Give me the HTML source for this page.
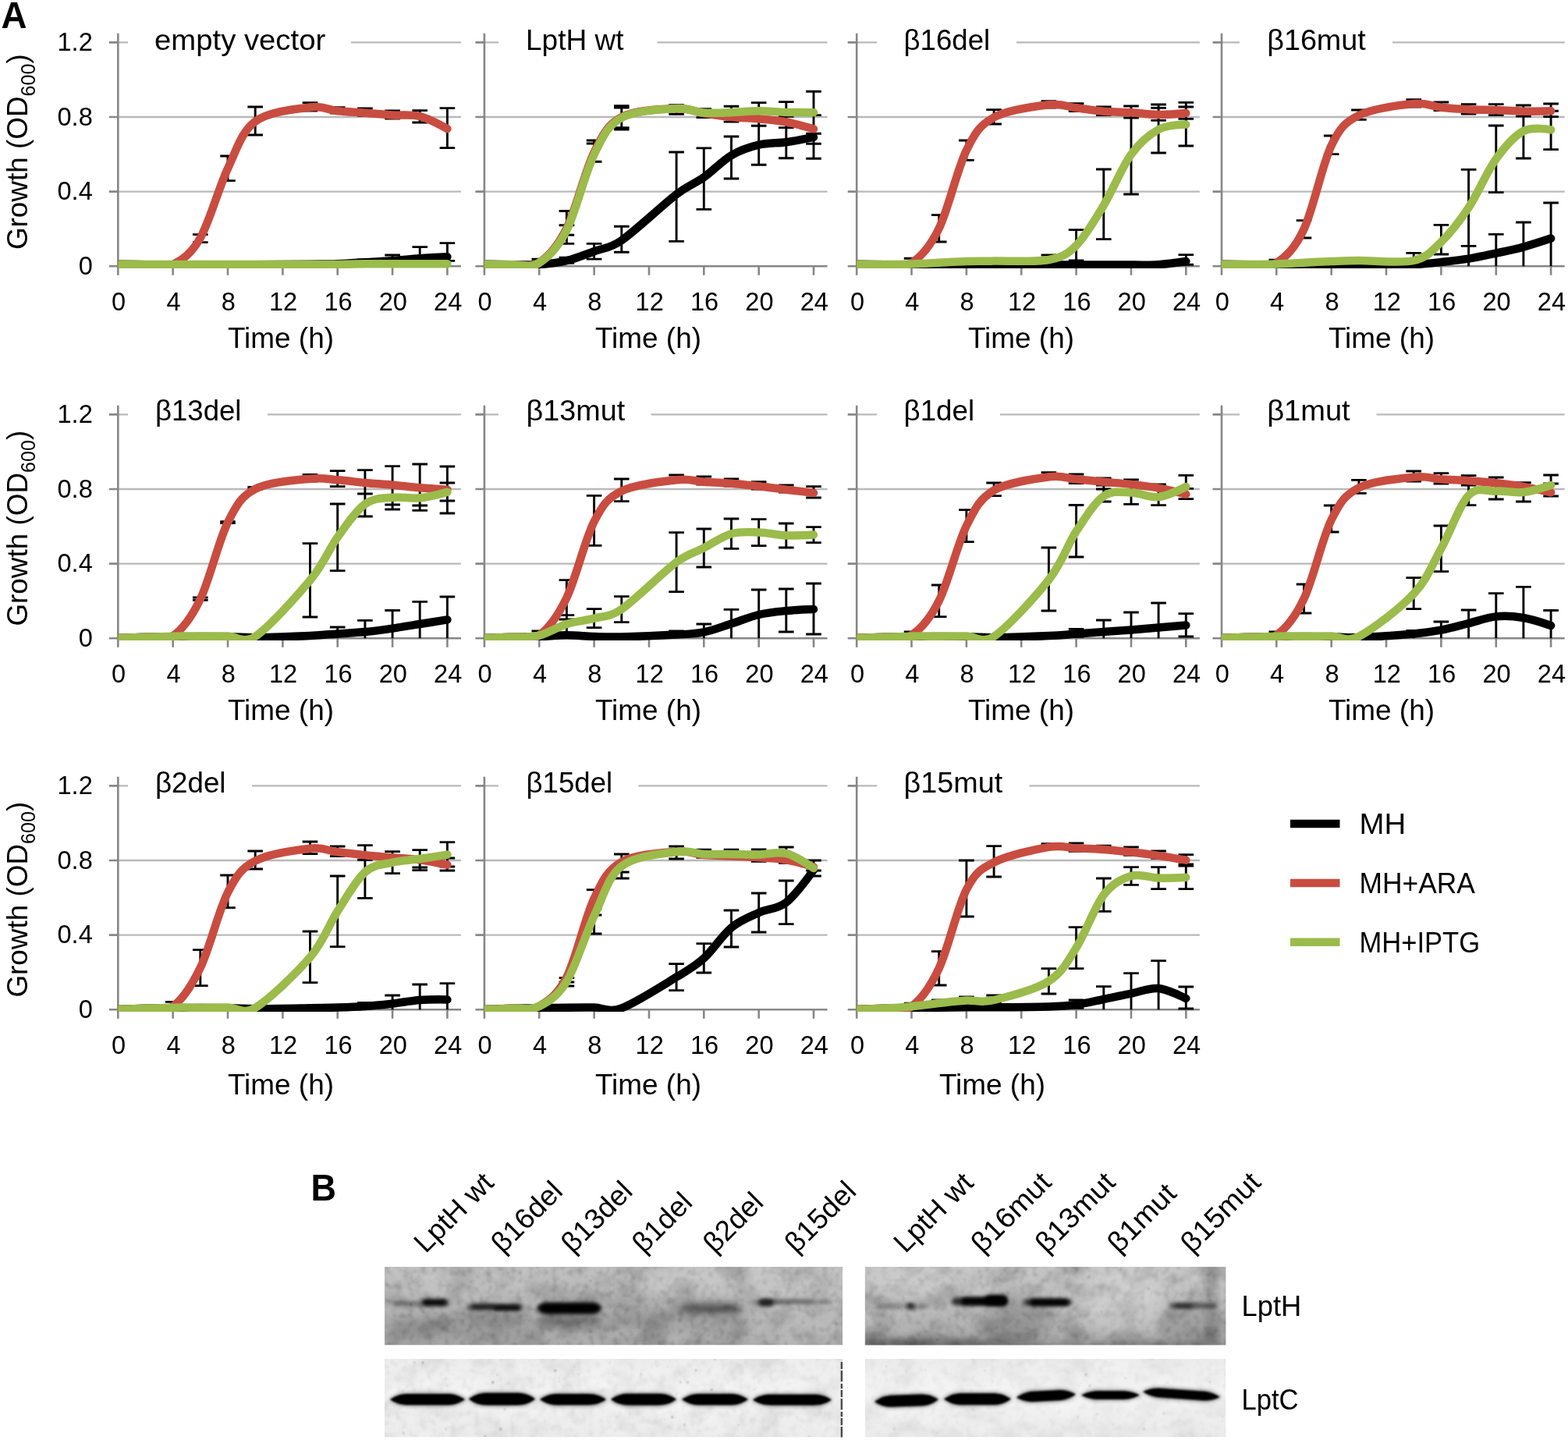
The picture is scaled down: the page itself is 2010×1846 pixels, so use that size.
<!DOCTYPE html>
<html lang="en"><head><meta charset="utf-8"><title>Growth curves and immunoblot of LptH variants</title>
<style>html,body{margin:0;padding:0;background:#fff}body{width:2010px;height:1846px;overflow:hidden}svg{display:block}text{font-family:"Liberation Sans",Arial,Helvetica,sans-serif;fill:#000}</style>
</head><body>
<svg width="2010" height="1846" viewBox="0 0 2010 1846">
<defs>
<clipPath id="c0"><rect x="151.3" y="41.2" width="459.7" height="302.7"/></clipPath>
<clipPath id="c1"><rect x="620.9" y="41.2" width="459.7" height="302.7"/></clipPath>
<clipPath id="c2"><rect x="1098.2" y="41.2" width="459.7" height="302.7"/></clipPath>
<clipPath id="c3"><rect x="1566.0" y="41.2" width="459.7" height="302.7"/></clipPath>
<clipPath id="c4"><rect x="151.3" y="518.2" width="459.7" height="302.7"/></clipPath>
<clipPath id="c5"><rect x="620.9" y="518.2" width="459.7" height="302.7"/></clipPath>
<clipPath id="c6"><rect x="1098.2" y="518.2" width="459.7" height="302.7"/></clipPath>
<clipPath id="c7"><rect x="1566.0" y="518.2" width="459.7" height="302.7"/></clipPath>
<clipPath id="c8"><rect x="151.3" y="994.2" width="459.7" height="302.7"/></clipPath>
<clipPath id="c9"><rect x="620.9" y="994.2" width="459.7" height="302.7"/></clipPath>
<clipPath id="c10"><rect x="1098.2" y="994.2" width="459.7" height="302.7"/></clipPath>
</defs>
<rect width="2010" height="1846" fill="#fff"/>
<g id="p0">
<line x1="151.3" y1="245.6" x2="591.0" y2="245.6" stroke="#b9b9b9" stroke-width="2.4"/>
<line x1="151.3" y1="150.0" x2="591.0" y2="150.0" stroke="#b9b9b9" stroke-width="2.4"/>
<line x1="151.3" y1="54.4" x2="591.0" y2="54.4" stroke="#b9b9b9" stroke-width="2.4"/>
<rect x="164.0" y="32.4" width="286.0" height="44" fill="#fff"/>
<path d="M151.3,42.7V352.7M139.8,341.2H591.0" stroke="#878787" stroke-width="2.6" fill="none"/>
<path d="M139.8,245.6H151.3M139.8,150.0H151.3M139.8,54.4H151.3M221.7,341.2V352.7M292.0,341.2V352.7M362.4,341.2V352.7M432.7,341.2V352.7M503.1,341.2V352.7M573.4,341.2V352.7" stroke="#878787" stroke-width="2.6" fill="none"/>
<path d="M256.8,300.6V310.6M247.0,300.6h19.6M247.0,310.6h19.6M292.0,200.0V231.6M282.2,200.0h19.6M282.2,231.6h19.6M327.2,137.0V173.0M317.4,137.0h19.6M317.4,173.0h19.6M397.5,131.6V142.0M387.7,131.6h19.6M387.7,142.0h19.6M432.7,137.6V145.0M422.9,137.6h19.6M422.9,145.0h19.6M467.9,139.0V148.4M458.1,139.0h19.6M458.1,148.4h19.6M503.1,142.0V152.0M493.3,142.0h19.6M493.3,152.0h19.6M538.2,141.6V157.0M528.4,141.6h19.6M528.4,157.0h19.6M573.4,138.6V189.6M563.6,138.6h19.6M563.6,189.6h19.6M467.9,333.0V339.2M458.1,333.0h19.6M458.1,339.2h19.6M503.1,327.0V339.2M493.3,327.0h19.6M493.3,339.2h19.6M538.2,316.6V339.2M528.4,316.6h19.6M528.4,339.2h19.6M573.4,311.6V334.4M563.6,311.6h19.6M563.6,334.4h19.6" stroke="#000" stroke-width="2.9" fill="none"/>
<g clip-path="url(#c0)" fill="none" stroke-width="10.5" stroke-linecap="round" stroke-linejoin="round">
<path d="M151.3,338.7C151.3,338.7 174.8,339.1 186.5,339.2C198.2,339.3 209.9,339.2 221.7,339.2C233.4,339.2 245.1,339.2 256.8,339.2C268.6,339.2 280.3,339.2 292.0,339.2C303.7,339.2 309.6,339.3 327.2,339.2C344.8,339.1 379.9,338.9 397.5,338.7C415.1,338.5 421.0,338.6 432.7,338.2C444.4,337.8 456.2,336.9 467.9,336.2C479.6,335.5 491.3,335.0 503.1,334.2C514.8,333.4 526.5,332.0 538.2,331.2C550.0,330.4 573.4,329.2 573.4,329.2" stroke="#000000"/>
<path d="M151.3,338.7C151.3,338.7 174.8,339.1 186.5,339.2C198.2,339.2 209.9,344.7 221.7,339.0C233.4,333.3 245.1,325.5 256.8,305.0C268.6,284.5 280.3,240.9 292.0,216.0C303.7,191.1 309.6,168.8 327.2,155.7C344.8,142.6 379.9,139.7 397.5,137.5C415.1,135.3 421.0,141.1 432.7,142.3C444.4,143.5 456.2,143.8 467.9,144.7C479.6,145.6 491.3,146.8 503.1,147.5C514.8,148.2 526.5,146.2 538.2,149.1C550.0,152.0 573.4,165.1 573.4,165.1" stroke="#c94c40"/>
<path d="M151.3,338.7C151.3,338.7 174.8,338.9 186.5,339.0C198.2,339.1 204.1,339.0 221.7,339.0C239.2,339.0 268.6,339.0 292.0,339.0C315.4,339.0 338.9,339.0 362.4,339.0C385.8,339.0 415.1,339.1 432.7,339.0C450.3,338.9 456.2,338.3 467.9,338.2C479.6,338.1 491.3,338.2 503.1,338.2C514.8,338.2 526.5,338.2 538.2,338.2C550.0,338.2 573.4,338.2 573.4,338.2" stroke="#9bbb4b"/>
</g>
<text x="198.0" y="63.9" font-size="36.5" textLength="219.2" lengthAdjust="spacingAndGlyphs">empty vector</text>
<text x="100.7" y="351.9" font-size="33.0" textLength="18.1" lengthAdjust="spacingAndGlyphs">0</text>
<text x="73.5" y="256.3" font-size="33.0" textLength="45.3" lengthAdjust="spacingAndGlyphs">0.4</text>
<text x="73.5" y="160.7" font-size="33.0" textLength="45.3" lengthAdjust="spacingAndGlyphs">0.8</text>
<text x="73.5" y="65.1" font-size="33.0" textLength="45.3" lengthAdjust="spacingAndGlyphs">1.2</text>
<text x="143.0" y="397.7" font-size="33.0" textLength="18.1" lengthAdjust="spacingAndGlyphs">0</text>
<text x="213.4" y="397.7" font-size="33.0" textLength="18.1" lengthAdjust="spacingAndGlyphs">4</text>
<text x="283.7" y="397.7" font-size="33.0" textLength="18.1" lengthAdjust="spacingAndGlyphs">8</text>
<text x="345.0" y="397.7" font-size="33.0" textLength="36.2" lengthAdjust="spacingAndGlyphs">12</text>
<text x="415.4" y="397.7" font-size="33.0" textLength="36.2" lengthAdjust="spacingAndGlyphs">16</text>
<text x="485.7" y="397.7" font-size="33.0" textLength="36.2" lengthAdjust="spacingAndGlyphs">20</text>
<text x="556.1" y="397.7" font-size="33.0" textLength="36.2" lengthAdjust="spacingAndGlyphs">24</text>
<text x="291.9" y="445.5" font-size="36.5" textLength="136.1" lengthAdjust="spacingAndGlyphs">Time (h)</text>
<text transform="translate(34.5,194.7) rotate(-90)" font-size="36.5"><tspan x="-125.4" y="0" textLength="196.6" lengthAdjust="spacingAndGlyphs">Growth (OD</tspan><tspan x="71.3" y="10.3" font-size="25.6" textLength="41.8" lengthAdjust="spacingAndGlyphs">600</tspan><tspan x="113.1" y="0" textLength="12.2" lengthAdjust="spacingAndGlyphs">)</tspan></text>
</g>
<g id="p1">
<line x1="620.9" y1="245.6" x2="1060.6" y2="245.6" stroke="#b9b9b9" stroke-width="2.4"/>
<line x1="620.9" y1="150.0" x2="1060.6" y2="150.0" stroke="#b9b9b9" stroke-width="2.4"/>
<line x1="620.9" y1="54.4" x2="1060.6" y2="54.4" stroke="#b9b9b9" stroke-width="2.4"/>
<rect x="639.0" y="32.4" width="203.5" height="44" fill="#fff"/>
<path d="M620.9,42.7V352.7M609.4,341.2H1060.6" stroke="#878787" stroke-width="2.6" fill="none"/>
<path d="M609.4,245.6H620.9M609.4,150.0H620.9M609.4,54.4H620.9M691.2,341.2V352.7M761.6,341.2V352.7M832.0,341.2V352.7M902.3,341.2V352.7M972.7,341.2V352.7M1043.0,341.2V352.7" stroke="#878787" stroke-width="2.6" fill="none"/>
<path d="M691.2,332.2V332.2M681.5,332.2h19.6M726.4,330.2V337.2M716.6,330.2h19.6M716.6,337.2h19.6M726.4,270.5V312.4M716.6,270.5h19.6M716.6,288.7h19.6M716.6,301.2h19.6M716.6,312.4h19.6M761.6,180.0V207.2M751.8,180.0h19.6M751.8,184.0h19.6M751.8,207.2h19.6M796.8,135.7V166.0M787.0,135.7h19.6M787.0,138.0h19.6M787.0,163.8h19.6M787.0,166.0h19.6M761.6,312.4V332.1M751.8,312.4h19.6M751.8,332.1h19.6M796.8,290.2V323.3M787.0,290.2h19.6M787.0,323.3h19.6M867.1,195.0V309.4M857.3,195.0h19.6M857.3,309.4h19.6M867.1,134.6V146.2M857.3,134.6h19.6M857.3,146.2h19.6M902.3,189.9V268.4M892.5,189.9h19.6M892.5,268.4h19.6M902.3,139.6V150.6M892.5,139.6h19.6M892.5,150.6h19.6M937.5,175.0V229.0M927.7,175.0h19.6M927.7,229.0h19.6M937.5,136.3V156.1M927.7,136.3h19.6M927.7,156.1h19.6M972.7,131.6V211.2M962.9,131.6h19.6M962.9,161.3h19.6M962.9,211.2h19.6M1007.8,130.6V202.7M998.0,130.6h19.6M998.0,149.3h19.6M998.0,163.6h19.6M998.0,202.7h19.6M1043.0,117.3V203.2M1033.2,117.3h19.6M1033.2,147.6h19.6M1033.2,171.2h19.6M1033.2,184.2h19.6M1033.2,203.2h19.6" stroke="#000" stroke-width="2.9" fill="none"/>
<g clip-path="url(#c1)" fill="none" stroke-width="10.5" stroke-linecap="round" stroke-linejoin="round">
<path d="M620.9,338.7C620.9,338.7 644.3,339.1 656.1,339.2C667.8,339.3 679.5,340.0 691.2,339.2C703.0,338.4 714.7,337.0 726.4,334.2C738.1,331.4 749.9,326.5 761.6,322.2C773.3,317.9 781.2,319.0 796.8,308.2C814.4,296.0 849.5,262.7 867.1,249.2C883.6,236.6 890.6,235.6 902.3,227.3C914.0,219.0 925.8,206.1 937.5,199.2C949.2,192.3 960.9,188.5 972.7,185.7C984.4,182.9 996.1,183.8 1007.8,182.2C1019.6,180.6 1043.0,175.9 1043.0,175.9" stroke="#000000"/>
<path d="M620.9,338.7C620.9,338.7 644.3,339.5 656.1,339.2C667.8,338.9 679.5,344.4 691.2,336.7C703.0,328.9 714.7,316.3 726.4,292.7C738.1,269.1 749.9,218.9 761.6,195.2C773.3,171.4 779.2,159.5 796.8,150.2C814.4,140.9 849.5,140.0 867.1,139.2C884.7,138.4 890.6,143.4 902.3,145.2C914.0,147.0 925.8,148.9 937.5,150.1C949.2,151.3 960.9,151.3 972.7,152.3C984.4,153.3 996.1,154.1 1007.8,156.3C1019.6,158.5 1043.0,165.3 1043.0,165.3" stroke="#c94c40"/>
<path d="M620.9,338.7C620.9,338.7 644.3,339.5 656.1,339.2C667.8,338.9 679.5,344.3 691.2,337.0C703.0,329.7 714.7,318.4 726.4,295.2C738.1,272.0 749.9,222.0 761.6,198.0C773.3,174.0 779.2,160.8 796.8,151.0C814.4,141.2 849.5,140.3 867.1,139.2C884.7,138.1 890.6,143.8 902.3,144.6C914.0,145.4 925.8,144.5 937.5,144.1C949.2,143.7 960.9,142.3 972.7,142.3C984.4,142.3 996.1,143.6 1007.8,143.9C1019.6,144.2 1043.0,144.2 1043.0,144.2" stroke="#9bbb4b"/>
</g>
<text x="674.0" y="63.9" font-size="36.5" textLength="125.5" lengthAdjust="spacingAndGlyphs">LptH wt</text>
<text x="612.6" y="397.7" font-size="33.0" textLength="18.1" lengthAdjust="spacingAndGlyphs">0</text>
<text x="683.0" y="397.7" font-size="33.0" textLength="18.1" lengthAdjust="spacingAndGlyphs">4</text>
<text x="753.3" y="397.7" font-size="33.0" textLength="18.1" lengthAdjust="spacingAndGlyphs">8</text>
<text x="814.6" y="397.7" font-size="33.0" textLength="36.2" lengthAdjust="spacingAndGlyphs">12</text>
<text x="885.0" y="397.7" font-size="33.0" textLength="36.2" lengthAdjust="spacingAndGlyphs">16</text>
<text x="955.3" y="397.7" font-size="33.0" textLength="36.2" lengthAdjust="spacingAndGlyphs">20</text>
<text x="1025.7" y="397.7" font-size="33.0" textLength="36.2" lengthAdjust="spacingAndGlyphs">24</text>
<text x="762.9" y="445.5" font-size="36.5" textLength="136.1" lengthAdjust="spacingAndGlyphs">Time (h)</text>
</g>
<g id="p2">
<line x1="1098.2" y1="245.6" x2="1537.9" y2="245.6" stroke="#b9b9b9" stroke-width="2.4"/>
<line x1="1098.2" y1="150.0" x2="1537.9" y2="150.0" stroke="#b9b9b9" stroke-width="2.4"/>
<line x1="1098.2" y1="54.4" x2="1537.9" y2="54.4" stroke="#b9b9b9" stroke-width="2.4"/>
<rect x="1124.0" y="32.4" width="179.0" height="44" fill="#fff"/>
<path d="M1098.2,42.7V352.7M1086.7,341.2H1537.9" stroke="#878787" stroke-width="2.6" fill="none"/>
<path d="M1086.7,245.6H1098.2M1086.7,150.0H1098.2M1086.7,54.4H1098.2M1168.5,341.2V352.7M1238.9,341.2V352.7M1309.2,341.2V352.7M1379.6,341.2V352.7M1450.0,341.2V352.7M1520.3,341.2V352.7" stroke="#878787" stroke-width="2.6" fill="none"/>
<path d="M1168.5,331.2V331.2M1158.8,331.2h19.6M1203.7,275.6V310.0M1193.9,275.6h19.6M1193.9,310.0h19.6M1238.9,180.0V205.4M1229.1,180.0h19.6M1229.1,205.4h19.6M1274.1,140.6V159.0M1264.3,140.6h19.6M1264.3,159.0h19.6M1344.4,129.6V138.0M1334.6,129.6h19.6M1334.6,138.0h19.6M1344.4,327.0V338.2M1334.6,327.0h19.6M1334.6,338.2h19.6M1379.6,132.6V142.6M1369.8,132.6h19.6M1369.8,142.6h19.6M1379.6,294.6V334.0M1369.8,294.6h19.6M1369.8,334.0h19.6M1414.8,137.0V147.6M1405.0,137.0h19.6M1405.0,147.6h19.6M1414.8,217.0V306.6M1405.0,217.0h19.6M1405.0,306.6h19.6M1450.0,136.0V249.0M1440.2,136.0h19.6M1440.2,151.0h19.6M1440.2,249.0h19.6M1485.1,134.0V196.0M1475.3,134.0h19.6M1475.3,138.4h19.6M1475.3,154.4h19.6M1475.3,196.0h19.6M1520.3,131.4V187.0M1510.5,131.4h19.6M1510.5,137.0h19.6M1510.5,152.4h19.6M1510.5,187.0h19.6M1520.3,326.6V339.2M1510.5,326.6h19.6M1510.5,339.2h19.6" stroke="#000" stroke-width="2.9" fill="none"/>
<g clip-path="url(#c2)" fill="none" stroke-width="10.5" stroke-linecap="round" stroke-linejoin="round">
<path d="M1098.2,338.7C1098.2,338.7 1121.7,339.1 1133.4,339.2C1145.1,339.3 1151.0,339.2 1168.5,339.2C1186.1,339.2 1215.5,339.1 1238.9,339.2C1262.4,339.3 1285.8,339.5 1309.2,339.6C1332.7,339.7 1356.2,339.6 1379.6,339.6C1403.1,339.6 1432.4,339.7 1450.0,339.6C1467.5,339.5 1473.4,340.0 1485.1,339.2C1496.8,338.4 1520.3,335.0 1520.3,335.0" stroke="#000000"/>
<path d="M1098.2,338.7C1098.2,338.7 1121.7,339.4 1133.4,339.2C1145.1,338.9 1156.8,344.9 1168.5,337.2C1180.3,329.5 1192.0,316.9 1203.7,292.8C1215.5,268.7 1227.2,216.3 1238.9,192.6C1250.6,168.9 1256.5,160.2 1274.1,150.5C1291.7,140.8 1326.8,136.3 1344.4,134.3C1362.0,132.3 1367.9,136.9 1379.6,138.3C1391.3,139.7 1403.1,141.7 1414.8,142.7C1426.5,143.7 1438.2,143.6 1450.0,144.3C1461.7,145.0 1473.4,147.0 1485.1,147.1C1496.8,147.2 1520.3,145.1 1520.3,145.1" stroke="#c94c40"/>
<path d="M1098.2,338.7C1098.2,338.7 1121.7,339.1 1133.4,339.0C1145.1,338.9 1156.8,338.8 1168.5,338.4C1180.3,338.0 1192.0,337.3 1203.7,336.7C1215.5,336.1 1227.2,335.4 1238.9,335.0C1250.6,334.6 1256.5,334.9 1274.1,334.6C1291.7,334.3 1326.8,336.3 1344.4,333.0C1362.0,329.7 1367.9,326.3 1379.6,314.7C1391.3,303.1 1403.1,282.6 1414.8,263.2C1426.5,243.8 1438.2,214.2 1450.0,198.0C1461.7,181.8 1473.4,172.4 1485.1,166.0C1496.8,159.6 1520.3,159.6 1520.3,159.6" stroke="#9bbb4b"/>
</g>
<text x="1158.6" y="63.9" font-size="36.5" textLength="110.5" lengthAdjust="spacingAndGlyphs">β16del</text>
<text x="1089.9" y="397.7" font-size="33.0" textLength="18.1" lengthAdjust="spacingAndGlyphs">0</text>
<text x="1160.3" y="397.7" font-size="33.0" textLength="18.1" lengthAdjust="spacingAndGlyphs">4</text>
<text x="1230.6" y="397.7" font-size="33.0" textLength="18.1" lengthAdjust="spacingAndGlyphs">8</text>
<text x="1291.9" y="397.7" font-size="33.0" textLength="36.2" lengthAdjust="spacingAndGlyphs">12</text>
<text x="1362.3" y="397.7" font-size="33.0" textLength="36.2" lengthAdjust="spacingAndGlyphs">16</text>
<text x="1432.6" y="397.7" font-size="33.0" textLength="36.2" lengthAdjust="spacingAndGlyphs">20</text>
<text x="1503.0" y="397.7" font-size="33.0" textLength="36.2" lengthAdjust="spacingAndGlyphs">24</text>
<text x="1240.9" y="445.5" font-size="36.5" textLength="136.1" lengthAdjust="spacingAndGlyphs">Time (h)</text>
</g>
<g id="p3">
<line x1="1566.0" y1="245.6" x2="2005.7" y2="245.6" stroke="#b9b9b9" stroke-width="2.4"/>
<line x1="1566.0" y1="150.0" x2="2005.7" y2="150.0" stroke="#b9b9b9" stroke-width="2.4"/>
<line x1="1566.0" y1="54.4" x2="2005.7" y2="54.4" stroke="#b9b9b9" stroke-width="2.4"/>
<rect x="1589.0" y="32.4" width="196.0" height="44" fill="#fff"/>
<path d="M1566.0,42.7V352.7M1554.5,341.2H2005.7" stroke="#878787" stroke-width="2.6" fill="none"/>
<path d="M1554.5,245.6H1566.0M1554.5,150.0H1566.0M1554.5,54.4H1566.0M1636.3,341.2V352.7M1706.7,341.2V352.7M1777.0,341.2V352.7M1847.4,341.2V352.7M1917.8,341.2V352.7M1988.1,341.2V352.7" stroke="#878787" stroke-width="2.6" fill="none"/>
<path d="M1636.3,333.2V333.2M1626.5,333.2h19.6M1671.5,282.6V305.0M1661.7,282.6h19.6M1661.7,305.0h19.6M1706.7,174.0V197.6M1696.9,174.0h19.6M1696.9,197.6h19.6M1741.9,141.0V153.4M1732.1,141.0h19.6M1732.1,153.4h19.6M1812.2,127.6V137.0M1802.4,127.6h19.6M1802.4,137.0h19.6M1812.2,324.4V338.2M1802.4,324.4h19.6M1802.4,338.2h19.6M1847.4,131.0V141.6M1837.6,131.0h19.6M1837.6,141.6h19.6M1847.4,288.4V326.0M1837.6,288.4h19.6M1837.6,326.0h19.6M1882.6,133.6V146.0M1872.8,133.6h19.6M1872.8,146.0h19.6M1882.6,217.4V341.2M1872.8,217.4h19.6M1872.8,315.4h19.6M1917.8,133.6V147.6M1908.0,133.6h19.6M1908.0,147.6h19.6M1917.8,161.0V246.6M1908.0,161.0h19.6M1908.0,246.6h19.6M1917.8,300.4V341.2M1908.0,300.4h19.6M1952.9,135.0V203.0M1943.1,135.0h19.6M1943.1,149.0h19.6M1943.1,203.0h19.6M1952.9,285.0V341.2M1943.1,285.0h19.6M1988.1,133.0V191.6M1978.3,133.0h19.6M1978.3,142.2h19.6M1978.3,149.6h19.6M1978.3,191.6h19.6M1988.1,260.0V341.2M1978.3,260.0h19.6" stroke="#000" stroke-width="2.9" fill="none"/>
<g clip-path="url(#c3)" fill="none" stroke-width="10.5" stroke-linecap="round" stroke-linejoin="round">
<path d="M1566.0,338.7C1566.0,338.7 1589.5,339.1 1601.2,339.2C1612.9,339.3 1618.8,339.2 1636.3,339.2C1653.9,339.2 1683.2,339.2 1706.7,339.2C1730.2,339.2 1759.5,339.2 1777.0,339.2C1794.6,339.2 1800.5,339.7 1812.2,339.2C1823.9,338.7 1835.7,337.3 1847.4,336.0C1859.1,334.7 1870.9,333.5 1882.6,331.6C1894.3,329.7 1906.0,327.1 1917.8,324.6C1929.5,322.1 1941.2,319.8 1952.9,316.6C1964.7,313.4 1988.1,305.6 1988.1,305.6" stroke="#000000"/>
<path d="M1566.0,338.7C1566.0,338.7 1589.5,339.4 1601.2,339.2C1612.9,338.9 1624.6,344.8 1636.3,337.2C1648.1,329.6 1659.8,318.9 1671.5,293.8C1683.3,268.7 1695.0,210.8 1706.7,186.5C1718.0,163.0 1724.3,156.8 1741.9,147.9C1759.5,139.0 1794.6,134.8 1812.2,133.1C1829.8,131.4 1835.7,136.5 1847.4,137.7C1859.1,138.9 1870.9,139.7 1882.6,140.3C1894.3,140.9 1906.0,140.7 1917.8,141.1C1929.5,141.5 1941.2,142.5 1952.9,142.7C1964.7,142.9 1988.1,142.3 1988.1,142.3" stroke="#c94c40"/>
<path d="M1566.0,338.7C1566.0,338.7 1589.5,339.1 1601.2,339.0C1612.9,338.9 1624.6,338.8 1636.3,338.4C1648.1,338.0 1659.8,337.3 1671.5,336.7C1683.2,336.1 1695.0,335.4 1706.7,335.0C1718.4,334.6 1724.3,334.2 1741.9,334.0C1759.5,333.8 1794.6,338.0 1812.2,334.0C1829.8,330.0 1835.7,321.5 1847.4,310.2C1859.1,298.9 1870.9,283.9 1882.6,266.2C1894.3,248.5 1906.0,220.2 1917.8,203.8C1929.5,187.4 1941.2,174.2 1952.9,168.0C1964.7,161.8 1988.1,166.4 1988.1,166.4" stroke="#9bbb4b"/>
</g>
<text x="1624.2" y="63.9" font-size="36.5" textLength="126.6" lengthAdjust="spacingAndGlyphs">β16mut</text>
<text x="1557.7" y="397.7" font-size="33.0" textLength="18.1" lengthAdjust="spacingAndGlyphs">0</text>
<text x="1628.1" y="397.7" font-size="33.0" textLength="18.1" lengthAdjust="spacingAndGlyphs">4</text>
<text x="1698.4" y="397.7" font-size="33.0" textLength="18.1" lengthAdjust="spacingAndGlyphs">8</text>
<text x="1759.7" y="397.7" font-size="33.0" textLength="36.2" lengthAdjust="spacingAndGlyphs">12</text>
<text x="1830.1" y="397.7" font-size="33.0" textLength="36.2" lengthAdjust="spacingAndGlyphs">16</text>
<text x="1900.4" y="397.7" font-size="33.0" textLength="36.2" lengthAdjust="spacingAndGlyphs">20</text>
<text x="1970.8" y="397.7" font-size="33.0" textLength="36.2" lengthAdjust="spacingAndGlyphs">24</text>
<text x="1702.9" y="445.5" font-size="36.5" textLength="136.1" lengthAdjust="spacingAndGlyphs">Time (h)</text>
</g>
<g id="p4">
<line x1="151.3" y1="722.6" x2="591.0" y2="722.6" stroke="#b9b9b9" stroke-width="2.4"/>
<line x1="151.3" y1="627.0" x2="591.0" y2="627.0" stroke="#b9b9b9" stroke-width="2.4"/>
<line x1="151.3" y1="531.4" x2="591.0" y2="531.4" stroke="#b9b9b9" stroke-width="2.4"/>
<rect x="164.0" y="509.4" width="179.0" height="44" fill="#fff"/>
<path d="M151.3,519.7V829.7M139.8,818.2H591.0" stroke="#878787" stroke-width="2.6" fill="none"/>
<path d="M139.8,722.6H151.3M139.8,627.0H151.3M139.8,531.4H151.3M221.7,818.2V829.7M292.0,818.2V829.7M362.4,818.2V829.7M432.7,818.2V829.7M503.1,818.2V829.7M573.4,818.2V829.7" stroke="#878787" stroke-width="2.6" fill="none"/>
<path d="M256.8,766.0V769.4M247.0,766.0h19.6M247.0,769.4h19.6M292.0,668.6V670.6M282.2,668.6h19.6M282.2,670.6h19.6M327.2,624.4V627.2M317.4,624.4h19.6M317.4,627.2h19.6M397.5,608.4V617.0M387.7,608.4h19.6M387.7,617.0h19.6M397.5,696.6V791.0M387.7,696.6h19.6M387.7,791.0h19.6M432.7,603.6V623.6M422.9,603.6h19.6M422.9,623.6h19.6M432.7,646.0V731.6M422.9,646.0h19.6M422.9,731.6h19.6M432.7,804.0V818.2M422.9,804.0h19.6M467.9,602.6V662.0M458.1,602.6h19.6M458.1,633.0h19.6M458.1,662.0h19.6M467.9,795.4V818.2M458.1,795.4h19.6M503.1,597.6V653.0M493.3,597.6h19.6M493.3,647.0h19.6M493.3,653.0h19.6M503.1,782.5V818.2M493.3,782.5h19.6M538.2,595.0V654.4M528.4,595.0h19.6M528.4,648.0h19.6M528.4,654.4h19.6M538.2,771.4V818.2M528.4,771.4h19.6M573.4,598.0V658.0M563.6,598.0h19.6M563.6,619.0h19.6M563.6,642.0h19.6M563.6,658.0h19.6M573.4,765.0V818.2M563.6,765.0h19.6" stroke="#000" stroke-width="2.9" fill="none"/>
<g clip-path="url(#c4)" fill="none" stroke-width="10.5" stroke-linecap="round" stroke-linejoin="round">
<path d="M151.3,817.9C151.3,817.9 174.8,817.0 186.5,816.7C198.2,816.4 204.1,816.3 221.7,816.2C239.2,816.1 274.4,816.0 292.0,816.2C309.6,816.4 309.6,817.4 327.2,817.2C344.8,817.0 379.9,815.8 397.5,815.0C415.1,814.2 421.0,813.2 432.7,812.4C444.4,811.6 456.2,811.1 467.9,810.0C479.6,808.9 491.3,807.3 503.1,805.6C514.8,803.9 526.5,801.9 538.2,800.0C550.0,798.1 573.4,794.4 573.4,794.4" stroke="#000000"/>
<path d="M151.3,817.9C151.3,817.9 174.8,817.2 186.5,816.7C198.2,816.2 209.9,823.3 221.7,815.2C233.4,807.1 245.1,792.3 256.8,768.0C268.6,743.7 280.3,693.1 292.0,669.6C303.7,646.1 309.6,636.2 327.2,626.9C344.8,617.6 379.9,615.6 397.5,613.7C415.0,611.8 421.0,614.4 432.7,615.3C444.4,616.2 456.2,617.8 467.9,618.9C479.6,620.0 491.3,620.6 503.1,621.7C514.8,622.8 526.5,624.3 538.2,625.3C550.0,626.3 573.4,627.7 573.4,627.7" stroke="#c94c40"/>
<path d="M151.3,817.9C151.3,817.9 174.8,817.1 186.5,816.7C198.2,816.3 209.9,815.9 221.7,815.7C233.4,815.5 245.1,815.7 256.8,815.7C268.6,815.7 280.3,815.6 292.0,815.6C303.7,815.6 312.6,825.9 327.2,816.0C344.8,804.0 379.9,765.0 397.5,743.8C415.1,722.6 421.0,705.1 432.7,688.8C444.4,672.6 456.2,654.8 467.9,646.3C479.6,637.8 491.3,639.0 503.1,637.7C514.8,636.4 526.5,639.4 538.2,638.3C550.0,637.2 573.4,630.9 573.4,630.9" stroke="#9bbb4b"/>
</g>
<text x="199.0" y="538.9" font-size="36.5" textLength="110.5" lengthAdjust="spacingAndGlyphs">β13del</text>
<text x="100.7" y="828.9" font-size="33.0" textLength="18.1" lengthAdjust="spacingAndGlyphs">0</text>
<text x="73.5" y="733.3" font-size="33.0" textLength="45.3" lengthAdjust="spacingAndGlyphs">0.4</text>
<text x="73.5" y="637.7" font-size="33.0" textLength="45.3" lengthAdjust="spacingAndGlyphs">0.8</text>
<text x="73.5" y="542.1" font-size="33.0" textLength="45.3" lengthAdjust="spacingAndGlyphs">1.2</text>
<text x="143.0" y="874.7" font-size="33.0" textLength="18.1" lengthAdjust="spacingAndGlyphs">0</text>
<text x="213.4" y="874.7" font-size="33.0" textLength="18.1" lengthAdjust="spacingAndGlyphs">4</text>
<text x="283.7" y="874.7" font-size="33.0" textLength="18.1" lengthAdjust="spacingAndGlyphs">8</text>
<text x="345.0" y="874.7" font-size="33.0" textLength="36.2" lengthAdjust="spacingAndGlyphs">12</text>
<text x="415.4" y="874.7" font-size="33.0" textLength="36.2" lengthAdjust="spacingAndGlyphs">16</text>
<text x="485.7" y="874.7" font-size="33.0" textLength="36.2" lengthAdjust="spacingAndGlyphs">20</text>
<text x="556.1" y="874.7" font-size="33.0" textLength="36.2" lengthAdjust="spacingAndGlyphs">24</text>
<text x="291.9" y="922.5" font-size="36.5" textLength="136.1" lengthAdjust="spacingAndGlyphs">Time (h)</text>
<text transform="translate(34.5,677.2) rotate(-90)" font-size="36.5"><tspan x="-125.4" y="0" textLength="196.6" lengthAdjust="spacingAndGlyphs">Growth (OD</tspan><tspan x="71.3" y="10.3" font-size="25.6" textLength="41.8" lengthAdjust="spacingAndGlyphs">600</tspan><tspan x="113.1" y="0" textLength="12.2" lengthAdjust="spacingAndGlyphs">)</tspan></text>
</g>
<g id="p5">
<line x1="620.9" y1="722.6" x2="1060.6" y2="722.6" stroke="#b9b9b9" stroke-width="2.4"/>
<line x1="620.9" y1="627.0" x2="1060.6" y2="627.0" stroke="#b9b9b9" stroke-width="2.4"/>
<line x1="620.9" y1="531.4" x2="1060.6" y2="531.4" stroke="#b9b9b9" stroke-width="2.4"/>
<rect x="639.0" y="509.4" width="195.6" height="44" fill="#fff"/>
<path d="M620.9,519.7V829.7M609.4,818.2H1060.6" stroke="#878787" stroke-width="2.6" fill="none"/>
<path d="M609.4,722.6H620.9M609.4,627.0H620.9M609.4,531.4H620.9M691.2,818.2V829.7M761.6,818.2V829.7M832.0,818.2V829.7M902.3,818.2V829.7M972.7,818.2V829.7M1043.0,818.2V829.7" stroke="#878787" stroke-width="2.6" fill="none"/>
<path d="M691.2,809.0V809.0M681.5,809.0h19.6M726.4,743.6V811.6M716.6,743.6h19.6M716.6,788.6h19.6M716.6,794.0h19.6M716.6,811.6h19.6M761.6,635.4V699.4M751.8,635.4h19.6M751.8,699.4h19.6M761.6,780.6V804.6M751.8,780.6h19.6M751.8,804.6h19.6M796.8,614.0V642.6M787.0,614.0h19.6M787.0,642.6h19.6M796.8,764.6V797.6M787.0,764.6h19.6M787.0,797.6h19.6M867.1,609.0V618.0M857.3,609.0h19.6M857.3,618.0h19.6M867.1,682.6V758.6M857.3,682.6h19.6M857.3,758.6h19.6M867.1,809.0V816.2M857.3,809.0h19.6M857.3,816.2h19.6M902.3,611.0V621.0M892.5,611.0h19.6M892.5,621.0h19.6M902.3,678.0V727.0M892.5,678.0h19.6M892.5,727.0h19.6M902.3,800.0V818.2M892.5,800.0h19.6M937.5,614.0V623.0M927.7,614.0h19.6M927.7,623.0h19.6M937.5,665.0V703.4M927.7,665.0h19.6M927.7,703.4h19.6M937.5,781.4V818.2M927.7,781.4h19.6M972.7,617.6V627.0M962.9,617.6h19.6M962.9,627.0h19.6M972.7,665.6V699.6M962.9,665.6h19.6M962.9,699.6h19.6M972.7,756.0V818.2M962.9,756.0h19.6M1007.8,622.0V631.0M998.0,622.0h19.6M998.0,631.0h19.6M1007.8,671.0V702.0M998.0,671.0h19.6M998.0,702.0h19.6M1007.8,755.0V810.0M998.0,755.0h19.6M998.0,810.0h19.6M1043.0,623.6V638.0M1033.2,623.6h19.6M1033.2,638.0h19.6M1043.0,675.6V695.6M1033.2,675.6h19.6M1033.2,695.6h19.6M1043.0,748.0V813.0M1033.2,748.0h19.6M1033.2,813.0h19.6" stroke="#000" stroke-width="2.9" fill="none"/>
<g clip-path="url(#c5)" fill="none" stroke-width="10.5" stroke-linecap="round" stroke-linejoin="round">
<path d="M620.9,817.9C620.9,817.9 644.3,817.0 656.1,816.7C667.8,816.4 679.5,816.6 691.2,816.2C703.0,815.8 714.7,814.2 726.4,814.2C738.1,814.2 749.9,815.6 761.6,816.0C773.3,816.4 779.2,816.8 796.8,816.4C814.4,816.0 849.5,814.6 867.1,813.6C884.7,812.6 890.6,812.7 902.3,810.4C914.0,808.1 925.8,803.3 937.5,799.6C949.2,795.9 960.9,790.8 972.7,788.0C984.4,785.2 996.1,784.2 1007.8,783.0C1019.6,781.8 1043.0,781.0 1043.0,781.0" stroke="#000000"/>
<path d="M620.9,817.9C620.9,817.9 644.3,817.3 656.1,816.7C667.8,816.1 679.5,822.6 691.2,814.2C703.0,805.8 714.7,790.5 726.4,766.2C738.1,742.0 749.9,691.5 761.6,668.7C773.3,645.9 779.2,638.4 796.8,629.5C814.4,620.6 849.5,617.3 867.1,615.3C884.6,613.3 890.6,617.0 902.3,617.7C914.0,618.4 925.8,618.8 937.5,619.7C949.2,620.6 960.9,622.0 972.7,623.3C984.4,624.6 996.1,626.3 1007.8,627.7C1019.6,629.1 1043.0,631.9 1043.0,631.9" stroke="#c94c40"/>
<path d="M620.9,817.9C620.9,817.9 644.3,817.2 656.1,816.7C667.8,816.2 679.5,817.4 691.2,814.6C703.0,811.8 714.7,803.7 726.4,800.0C738.1,796.3 749.9,795.8 761.6,792.6C773.3,789.4 781.5,791.4 796.8,781.0C814.4,769.0 849.5,733.7 867.1,720.6C883.0,708.8 890.6,708.5 902.3,702.4C914.0,696.3 925.8,687.5 937.5,684.2C949.2,680.9 960.9,682.2 972.7,682.6C984.4,683.0 996.1,685.9 1007.8,686.4C1019.6,686.9 1043.0,685.6 1043.0,685.6" stroke="#9bbb4b"/>
</g>
<text x="674.6" y="538.9" font-size="36.5" textLength="126.6" lengthAdjust="spacingAndGlyphs">β13mut</text>
<text x="612.6" y="874.7" font-size="33.0" textLength="18.1" lengthAdjust="spacingAndGlyphs">0</text>
<text x="683.0" y="874.7" font-size="33.0" textLength="18.1" lengthAdjust="spacingAndGlyphs">4</text>
<text x="753.3" y="874.7" font-size="33.0" textLength="18.1" lengthAdjust="spacingAndGlyphs">8</text>
<text x="814.6" y="874.7" font-size="33.0" textLength="36.2" lengthAdjust="spacingAndGlyphs">12</text>
<text x="885.0" y="874.7" font-size="33.0" textLength="36.2" lengthAdjust="spacingAndGlyphs">16</text>
<text x="955.3" y="874.7" font-size="33.0" textLength="36.2" lengthAdjust="spacingAndGlyphs">20</text>
<text x="1025.7" y="874.7" font-size="33.0" textLength="36.2" lengthAdjust="spacingAndGlyphs">24</text>
<text x="762.9" y="922.5" font-size="36.5" textLength="136.1" lengthAdjust="spacingAndGlyphs">Time (h)</text>
</g>
<g id="p6">
<line x1="1098.2" y1="722.6" x2="1537.9" y2="722.6" stroke="#b9b9b9" stroke-width="2.4"/>
<line x1="1098.2" y1="627.0" x2="1537.9" y2="627.0" stroke="#b9b9b9" stroke-width="2.4"/>
<line x1="1098.2" y1="531.4" x2="1537.9" y2="531.4" stroke="#b9b9b9" stroke-width="2.4"/>
<rect x="1124.0" y="509.4" width="158.0" height="44" fill="#fff"/>
<path d="M1098.2,519.7V829.7M1086.7,818.2H1537.9" stroke="#878787" stroke-width="2.6" fill="none"/>
<path d="M1086.7,722.6H1098.2M1086.7,627.0H1098.2M1086.7,531.4H1098.2M1168.5,818.2V829.7M1238.9,818.2V829.7M1309.2,818.2V829.7M1379.6,818.2V829.7M1450.0,818.2V829.7M1520.3,818.2V829.7" stroke="#878787" stroke-width="2.6" fill="none"/>
<path d="M1168.5,810.0V810.0M1158.8,810.0h19.6M1203.7,750.0V790.6M1193.9,750.0h19.6M1193.9,790.6h19.6M1238.9,653.6V694.6M1229.1,653.6h19.6M1229.1,694.6h19.6M1274.1,619.0V635.6M1264.3,619.0h19.6M1264.3,635.6h19.6M1344.4,605.6V614.4M1334.6,605.6h19.6M1334.6,614.4h19.6M1344.4,702.0V783.0M1334.6,702.0h19.6M1334.6,783.0h19.6M1379.6,608.0V619.6M1369.8,608.0h19.6M1369.8,619.6h19.6M1379.6,647.5V714.0M1369.8,647.5h19.6M1369.8,714.0h19.6M1379.6,806.4V816.2M1369.8,806.4h19.6M1369.8,816.2h19.6M1414.8,613.0V643.0M1405.0,613.0h19.6M1405.0,622.0h19.6M1405.0,627.0h19.6M1405.0,643.0h19.6M1414.8,795.0V818.2M1405.0,795.0h19.6M1450.0,615.0V646.4M1440.2,615.0h19.6M1440.2,646.4h19.6M1450.0,785.0V818.2M1440.2,785.0h19.6M1485.1,621.0V647.6M1475.3,621.0h19.6M1475.3,647.6h19.6M1485.1,773.0V818.2M1475.3,773.0h19.6M1520.3,609.4V639.6M1510.5,609.4h19.6M1510.5,626.4h19.6M1510.5,639.6h19.6M1520.3,786.6V816.0M1510.5,786.6h19.6M1510.5,816.0h19.6" stroke="#000" stroke-width="2.9" fill="none"/>
<g clip-path="url(#c6)" fill="none" stroke-width="10.5" stroke-linecap="round" stroke-linejoin="round">
<path d="M1098.2,817.9C1098.2,817.9 1121.7,817.0 1133.4,816.7C1145.1,816.4 1151.0,816.3 1168.5,816.2C1186.1,816.1 1221.3,816.0 1238.9,816.2C1256.5,816.4 1256.5,817.4 1274.1,817.2C1291.7,817.0 1326.8,815.8 1344.4,815.0C1362.0,814.2 1367.9,813.4 1379.6,812.6C1391.3,811.8 1403.1,810.9 1414.8,810.0C1426.5,809.1 1438.2,808.3 1450.0,807.4C1461.7,806.5 1473.4,805.4 1485.1,804.4C1496.8,803.4 1520.3,801.6 1520.3,801.6" stroke="#000000"/>
<path d="M1098.2,817.9C1098.2,817.9 1121.7,817.3 1133.4,816.7C1145.1,816.1 1156.8,822.0 1168.5,814.2C1180.3,806.5 1192.0,793.6 1203.7,770.2C1215.5,746.8 1227.2,697.6 1238.9,674.0C1250.6,650.4 1256.5,639.0 1274.1,628.5C1291.7,618.0 1326.8,613.7 1344.4,611.3C1361.9,608.9 1367.9,613.2 1379.6,614.3C1391.3,615.4 1403.1,616.6 1414.8,617.7C1426.5,618.8 1438.2,619.6 1450.0,620.9C1461.7,622.2 1473.4,623.6 1485.1,625.7C1496.8,627.8 1520.3,633.7 1520.3,633.7" stroke="#c94c40"/>
<path d="M1098.2,817.9C1098.2,817.9 1121.7,817.1 1133.4,816.7C1145.1,816.3 1156.8,815.9 1168.5,815.7C1180.3,815.5 1192.0,815.7 1203.7,815.7C1215.5,815.7 1227.2,815.6 1238.9,815.6C1250.6,815.6 1259.6,826.0 1274.1,816.0C1291.7,803.9 1326.8,765.7 1344.4,743.2C1362.0,720.7 1367.9,699.1 1379.6,681.2C1391.3,663.3 1403.1,644.3 1414.8,636.0C1426.5,627.7 1438.2,631.4 1450.0,631.6C1461.7,631.8 1473.4,638.3 1485.1,637.0C1496.8,635.7 1520.3,624.0 1520.3,624.0" stroke="#9bbb4b"/>
</g>
<text x="1158.6" y="538.9" font-size="36.5" textLength="90.5" lengthAdjust="spacingAndGlyphs">β1del</text>
<text x="1089.9" y="874.7" font-size="33.0" textLength="18.1" lengthAdjust="spacingAndGlyphs">0</text>
<text x="1160.3" y="874.7" font-size="33.0" textLength="18.1" lengthAdjust="spacingAndGlyphs">4</text>
<text x="1230.6" y="874.7" font-size="33.0" textLength="18.1" lengthAdjust="spacingAndGlyphs">8</text>
<text x="1291.9" y="874.7" font-size="33.0" textLength="36.2" lengthAdjust="spacingAndGlyphs">12</text>
<text x="1362.3" y="874.7" font-size="33.0" textLength="36.2" lengthAdjust="spacingAndGlyphs">16</text>
<text x="1432.6" y="874.7" font-size="33.0" textLength="36.2" lengthAdjust="spacingAndGlyphs">20</text>
<text x="1503.0" y="874.7" font-size="33.0" textLength="36.2" lengthAdjust="spacingAndGlyphs">24</text>
<text x="1240.9" y="922.5" font-size="36.5" textLength="136.1" lengthAdjust="spacingAndGlyphs">Time (h)</text>
</g>
<g id="p7">
<line x1="1566.0" y1="722.6" x2="2005.7" y2="722.6" stroke="#b9b9b9" stroke-width="2.4"/>
<line x1="1566.0" y1="627.0" x2="2005.7" y2="627.0" stroke="#b9b9b9" stroke-width="2.4"/>
<line x1="1566.0" y1="531.4" x2="2005.7" y2="531.4" stroke="#b9b9b9" stroke-width="2.4"/>
<rect x="1589.0" y="509.4" width="175.5" height="44" fill="#fff"/>
<path d="M1566.0,519.7V829.7M1554.5,818.2H2005.7" stroke="#878787" stroke-width="2.6" fill="none"/>
<path d="M1554.5,722.6H1566.0M1554.5,627.0H1566.0M1554.5,531.4H1566.0M1636.3,818.2V829.7M1706.7,818.2V829.7M1777.0,818.2V829.7M1847.4,818.2V829.7M1917.8,818.2V829.7M1988.1,818.2V829.7" stroke="#878787" stroke-width="2.6" fill="none"/>
<path d="M1636.3,810.0V810.0M1626.5,810.0h19.6M1671.5,749.0V786.0M1661.7,749.0h19.6M1661.7,786.0h19.6M1706.7,648.0V682.0M1696.9,648.0h19.6M1696.9,682.0h19.6M1741.9,615.4V632.4M1732.1,615.4h19.6M1732.1,632.4h19.6M1812.2,604.0V617.0M1802.4,604.0h19.6M1802.4,617.0h19.6M1812.2,740.6V780.6M1802.4,740.6h19.6M1802.4,780.6h19.6M1812.2,808.4V818.2M1802.4,808.4h19.6M1847.4,606.6V620.0M1837.6,606.6h19.6M1837.6,620.0h19.6M1847.4,674.0V732.6M1837.6,674.0h19.6M1837.6,732.6h19.6M1847.4,797.0V818.2M1837.6,797.0h19.6M1882.6,609.6V647.6M1872.8,609.6h19.6M1872.8,622.0h19.6M1872.8,647.6h19.6M1882.6,782.0V818.2M1872.8,782.0h19.6M1917.8,612.0V640.0M1908.0,612.0h19.6M1908.0,640.0h19.6M1917.8,760.6V818.2M1908.0,760.6h19.6M1952.9,618.6V643.0M1943.1,618.6h19.6M1943.1,643.0h19.6M1952.9,752.4V818.2M1943.1,752.4h19.6M1988.1,609.0V636.0M1978.3,609.0h19.6M1978.3,620.0h19.6M1978.3,636.0h19.6M1988.1,782.5V818.2M1978.3,782.5h19.6" stroke="#000" stroke-width="2.9" fill="none"/>
<g clip-path="url(#c7)" fill="none" stroke-width="10.5" stroke-linecap="round" stroke-linejoin="round">
<path d="M1566.0,817.9C1566.0,817.9 1589.5,817.0 1601.2,816.7C1612.9,816.4 1618.8,816.3 1636.3,816.2C1653.9,816.1 1689.1,816.0 1706.7,816.2C1724.3,816.4 1724.3,817.8 1741.9,817.2C1759.5,816.6 1794.6,814.0 1812.2,812.4C1829.8,810.8 1835.7,809.8 1847.4,807.6C1859.1,805.4 1870.9,801.9 1882.6,799.0C1894.3,796.1 1906.0,791.6 1917.8,790.4C1929.5,789.2 1941.2,790.1 1952.9,792.0C1964.7,793.9 1988.1,802.0 1988.1,802.0" stroke="#000000"/>
<path d="M1566.0,817.9C1566.0,817.9 1589.5,817.3 1601.2,816.7C1612.9,816.1 1624.6,822.4 1636.3,814.2C1648.1,806.0 1659.8,792.2 1671.5,767.6C1683.3,743.0 1695.0,690.0 1706.7,666.3C1718.4,642.6 1724.3,634.4 1741.9,625.3C1759.5,616.2 1794.6,613.5 1812.2,611.7C1829.8,609.9 1835.7,613.5 1847.4,614.3C1859.1,615.1 1870.9,615.5 1882.6,616.3C1894.3,617.1 1906.0,618.0 1917.8,619.3C1929.5,620.6 1941.2,621.9 1952.9,623.9C1964.7,625.9 1988.1,631.3 1988.1,631.3" stroke="#c94c40"/>
<path d="M1566.0,817.9C1566.0,817.9 1589.5,817.1 1601.2,816.7C1612.9,816.3 1624.6,815.9 1636.3,815.7C1648.1,815.5 1659.8,815.7 1671.5,815.7C1683.2,815.7 1695.0,815.6 1706.7,815.6C1718.4,815.6 1726.2,824.1 1741.9,816.0C1759.5,806.9 1794.6,780.0 1812.2,761.2C1829.8,742.4 1835.7,724.2 1847.4,703.2C1859.1,682.2 1870.9,647.3 1882.6,635.0C1894.3,622.7 1906.0,630.3 1917.8,629.6C1929.5,628.9 1941.2,632.3 1952.9,631.0C1964.7,629.7 1988.1,622.0 1988.1,622.0" stroke="#9bbb4b"/>
</g>
<text x="1624.2" y="538.9" font-size="36.5" textLength="106.5" lengthAdjust="spacingAndGlyphs">β1mut</text>
<text x="1557.7" y="874.7" font-size="33.0" textLength="18.1" lengthAdjust="spacingAndGlyphs">0</text>
<text x="1628.1" y="874.7" font-size="33.0" textLength="18.1" lengthAdjust="spacingAndGlyphs">4</text>
<text x="1698.4" y="874.7" font-size="33.0" textLength="18.1" lengthAdjust="spacingAndGlyphs">8</text>
<text x="1759.7" y="874.7" font-size="33.0" textLength="36.2" lengthAdjust="spacingAndGlyphs">12</text>
<text x="1830.1" y="874.7" font-size="33.0" textLength="36.2" lengthAdjust="spacingAndGlyphs">16</text>
<text x="1900.4" y="874.7" font-size="33.0" textLength="36.2" lengthAdjust="spacingAndGlyphs">20</text>
<text x="1970.8" y="874.7" font-size="33.0" textLength="36.2" lengthAdjust="spacingAndGlyphs">24</text>
<text x="1702.9" y="922.5" font-size="36.5" textLength="136.1" lengthAdjust="spacingAndGlyphs">Time (h)</text>
</g>
<g id="p8">
<line x1="151.3" y1="1198.6" x2="591.0" y2="1198.6" stroke="#b9b9b9" stroke-width="2.4"/>
<line x1="151.3" y1="1103.0" x2="591.0" y2="1103.0" stroke="#b9b9b9" stroke-width="2.4"/>
<line x1="151.3" y1="1007.4" x2="591.0" y2="1007.4" stroke="#b9b9b9" stroke-width="2.4"/>
<rect x="164.0" y="985.4" width="159.0" height="44" fill="#fff"/>
<path d="M151.3,995.7V1305.7M139.8,1294.2H591.0" stroke="#878787" stroke-width="2.6" fill="none"/>
<path d="M139.8,1198.6H151.3M139.8,1103.0H151.3M139.8,1007.4H151.3M221.7,1294.2V1305.7M292.0,1294.2V1305.7M362.4,1294.2V1305.7M432.7,1294.2V1305.7M503.1,1294.2V1305.7M573.4,1294.2V1305.7" stroke="#878787" stroke-width="2.6" fill="none"/>
<path d="M221.7,1284.4V1284.4M211.9,1284.4h19.6M256.8,1217.6V1263.6M247.0,1217.6h19.6M247.0,1263.6h19.6M292.0,1122.0V1163.6M282.2,1122.0h19.6M282.2,1163.6h19.6M327.2,1091.0V1114.0M317.4,1091.0h19.6M317.4,1114.0h19.6M397.5,1079.0V1094.6M387.7,1079.0h19.6M387.7,1094.6h19.6M397.5,1194.0V1259.6M387.7,1194.0h19.6M387.7,1259.6h19.6M432.7,1085.0V1097.6M422.9,1085.0h19.6M422.9,1097.6h19.6M432.7,1123.0V1213.6M422.9,1123.0h19.6M422.9,1213.6h19.6M467.9,1083.6V1151.4M458.1,1083.6h19.6M458.1,1102.2h19.6M458.1,1151.4h19.6M467.9,1285.4V1292.2M458.1,1285.4h19.6M458.1,1292.2h19.6M503.1,1091.6V1119.6M493.3,1091.6h19.6M493.3,1119.6h19.6M503.1,1276.0V1294.2M493.3,1276.0h19.6M538.2,1089.6V1115.6M528.4,1089.6h19.6M528.4,1112.0h19.6M528.4,1115.6h19.6M538.2,1262.0V1294.2M528.4,1262.0h19.6M573.4,1079.6V1116.0M563.6,1079.6h19.6M563.6,1100.0h19.6M563.6,1111.0h19.6M563.6,1116.0h19.6M573.4,1260.6V1294.2M563.6,1260.6h19.6" stroke="#000" stroke-width="2.9" fill="none"/>
<g clip-path="url(#c8)" fill="none" stroke-width="10.5" stroke-linecap="round" stroke-linejoin="round">
<path d="M151.3,1293.9C151.3,1293.9 174.8,1293.0 186.5,1292.7C198.2,1292.4 204.1,1292.3 221.7,1292.2C239.2,1292.1 274.4,1292.0 292.0,1292.2C309.6,1292.4 309.6,1293.2 327.2,1293.2C344.8,1293.2 379.9,1292.5 397.5,1292.2C415.1,1291.9 421.0,1292.0 432.7,1291.6C444.4,1291.2 456.2,1290.8 467.9,1290.0C479.6,1289.2 491.3,1287.9 503.1,1286.6C514.8,1285.3 526.5,1282.9 538.2,1282.0C550.0,1281.1 573.4,1281.4 573.4,1281.4" stroke="#000000"/>
<path d="M151.3,1293.9C151.3,1293.9 174.8,1293.3 186.5,1292.7C198.2,1292.1 209.9,1298.9 221.7,1290.2C233.4,1281.5 245.1,1265.0 256.8,1240.6C268.6,1216.3 280.3,1166.9 292.0,1144.1C303.7,1121.3 309.6,1113.1 327.2,1103.7C344.8,1094.3 379.9,1089.6 397.5,1087.7C415.1,1085.8 421.0,1090.9 432.7,1092.3C444.4,1093.7 456.2,1095.1 467.9,1096.3C479.6,1097.5 491.3,1098.3 503.1,1099.3C514.8,1100.3 526.5,1100.7 538.2,1102.3C550.0,1103.9 573.4,1108.7 573.4,1108.7" stroke="#c94c40"/>
<path d="M151.3,1293.9C151.3,1293.9 174.8,1293.1 186.5,1292.7C198.2,1292.3 209.9,1291.9 221.7,1291.7C233.4,1291.5 245.1,1291.7 256.8,1291.7C268.6,1291.7 280.3,1291.6 292.0,1291.6C303.7,1291.7 312.2,1301.2 327.2,1292.0C344.8,1281.3 379.9,1247.8 397.5,1227.2C415.1,1206.6 421.0,1186.4 432.7,1168.2C444.4,1150.0 456.2,1128.4 467.9,1118.0C479.6,1107.6 491.3,1108.4 503.1,1105.6C514.8,1102.8 526.5,1102.7 538.2,1101.0C550.0,1099.3 573.4,1095.6 573.4,1095.6" stroke="#9bbb4b"/>
</g>
<text x="199.0" y="1015.9" font-size="36.5" textLength="90.5" lengthAdjust="spacingAndGlyphs">β2del</text>
<text x="100.7" y="1304.9" font-size="33.0" textLength="18.1" lengthAdjust="spacingAndGlyphs">0</text>
<text x="73.5" y="1209.3" font-size="33.0" textLength="45.3" lengthAdjust="spacingAndGlyphs">0.4</text>
<text x="73.5" y="1113.7" font-size="33.0" textLength="45.3" lengthAdjust="spacingAndGlyphs">0.8</text>
<text x="73.5" y="1018.1" font-size="33.0" textLength="45.3" lengthAdjust="spacingAndGlyphs">1.2</text>
<text x="143.0" y="1350.7" font-size="33.0" textLength="18.1" lengthAdjust="spacingAndGlyphs">0</text>
<text x="213.4" y="1350.7" font-size="33.0" textLength="18.1" lengthAdjust="spacingAndGlyphs">4</text>
<text x="283.7" y="1350.7" font-size="33.0" textLength="18.1" lengthAdjust="spacingAndGlyphs">8</text>
<text x="345.0" y="1350.7" font-size="33.0" textLength="36.2" lengthAdjust="spacingAndGlyphs">12</text>
<text x="415.4" y="1350.7" font-size="33.0" textLength="36.2" lengthAdjust="spacingAndGlyphs">16</text>
<text x="485.7" y="1350.7" font-size="33.0" textLength="36.2" lengthAdjust="spacingAndGlyphs">20</text>
<text x="556.1" y="1350.7" font-size="33.0" textLength="36.2" lengthAdjust="spacingAndGlyphs">24</text>
<text x="291.9" y="1402.5" font-size="36.5" textLength="136.1" lengthAdjust="spacingAndGlyphs">Time (h)</text>
<text transform="translate(34.5,1153.2) rotate(-90)" font-size="36.5"><tspan x="-125.4" y="0" textLength="196.6" lengthAdjust="spacingAndGlyphs">Growth (OD</tspan><tspan x="71.3" y="10.3" font-size="25.6" textLength="41.8" lengthAdjust="spacingAndGlyphs">600</tspan><tspan x="113.1" y="0" textLength="12.2" lengthAdjust="spacingAndGlyphs">)</tspan></text>
</g>
<g id="p9">
<line x1="620.9" y1="1198.6" x2="1060.6" y2="1198.6" stroke="#b9b9b9" stroke-width="2.4"/>
<line x1="620.9" y1="1103.0" x2="1060.6" y2="1103.0" stroke="#b9b9b9" stroke-width="2.4"/>
<line x1="620.9" y1="1007.4" x2="1060.6" y2="1007.4" stroke="#b9b9b9" stroke-width="2.4"/>
<rect x="639.0" y="985.4" width="179.4" height="44" fill="#fff"/>
<path d="M620.9,995.7V1305.7M609.4,1294.2H1060.6" stroke="#878787" stroke-width="2.6" fill="none"/>
<path d="M609.4,1198.6H620.9M609.4,1103.0H620.9M609.4,1007.4H620.9M691.2,1294.2V1305.7M761.6,1294.2V1305.7M832.0,1294.2V1305.7M902.3,1294.2V1305.7M972.7,1294.2V1305.7M1043.0,1294.2V1305.7" stroke="#878787" stroke-width="2.6" fill="none"/>
<path d="M726.4,1253.6V1264.0M716.6,1253.6h19.6M716.6,1259.0h19.6M716.6,1264.0h19.6M761.6,1140.6V1197.0M751.8,1140.6h19.6M751.8,1165.0h19.6M751.8,1173.0h19.6M751.8,1197.0h19.6M796.8,1095.0V1126.0M787.0,1095.0h19.6M787.0,1118.0h19.6M787.0,1126.0h19.6M867.1,1085.0V1101.0M857.3,1085.0h19.6M857.3,1101.0h19.6M867.1,1235.6V1269.6M857.3,1235.6h19.6M857.3,1269.6h19.6M902.3,1089.2V1099.2M892.5,1089.2h19.6M892.5,1099.2h19.6M902.3,1209.6V1247.0M892.5,1209.6h19.6M892.5,1247.0h19.6M937.5,1089.2V1100.2M927.7,1089.2h19.6M927.7,1100.2h19.6M937.5,1167.0V1214.0M927.7,1167.0h19.6M927.7,1214.0h19.6M972.7,1089.0V1104.2M962.9,1089.0h19.6M962.9,1104.2h19.6M972.7,1145.0V1195.0M962.9,1145.0h19.6M962.9,1195.0h19.6M1007.8,1086.0V1106.2M998.0,1086.0h19.6M998.0,1106.2h19.6M1007.8,1129.0V1184.6M998.0,1129.0h19.6M998.0,1184.6h19.6M1043.0,1103.0V1123.0M1033.2,1103.0h19.6M1033.2,1116.0h19.6M1033.2,1123.0h19.6" stroke="#000" stroke-width="2.9" fill="none"/>
<g clip-path="url(#c9)" fill="none" stroke-width="10.5" stroke-linecap="round" stroke-linejoin="round">
<path d="M620.9,1293.9C620.9,1293.9 644.3,1293.0 656.1,1292.7C667.8,1292.4 679.5,1292.4 691.2,1292.2C703.0,1292.0 714.7,1291.8 726.4,1291.7C738.1,1291.6 749.9,1291.5 761.6,1291.6C773.3,1291.7 780.3,1298.5 796.8,1292.4C814.4,1285.9 849.5,1263.3 867.1,1252.6C884.7,1241.9 890.6,1239.0 902.3,1228.4C914.0,1217.8 925.8,1198.9 937.5,1189.2C949.2,1179.5 960.9,1175.4 972.7,1170.0C984.4,1164.6 996.1,1165.9 1007.8,1156.8C1019.6,1147.7 1043.0,1115.2 1043.0,1115.2" stroke="#000000"/>
<path d="M620.9,1293.9C620.9,1293.9 644.3,1293.4 656.1,1292.7C667.8,1292.0 679.5,1296.4 691.2,1289.7C703.0,1283.0 714.8,1275.4 726.4,1252.7C738.1,1229.7 749.9,1176.3 761.6,1151.7C773.3,1127.1 779.2,1115.0 796.8,1105.0C814.4,1095.0 849.5,1093.2 867.1,1091.7C884.7,1090.2 890.6,1094.9 902.3,1095.9C914.0,1096.9 925.8,1096.9 937.5,1097.5C949.2,1098.1 960.9,1098.5 972.7,1099.3C984.4,1100.1 996.1,1100.3 1007.8,1102.3C1019.6,1104.3 1043.0,1111.3 1043.0,1111.3" stroke="#c94c40"/>
<path d="M620.9,1293.9C620.9,1293.9 644.3,1293.4 656.1,1292.7C667.8,1292.0 679.5,1295.8 691.2,1290.0C703.0,1284.2 714.7,1277.5 726.4,1258.2C738.1,1238.9 749.9,1198.8 761.6,1174.2C773.3,1149.6 779.2,1124.1 796.8,1110.4C814.4,1096.7 849.5,1094.6 867.1,1092.0C884.6,1089.5 890.6,1094.5 902.3,1095.0C914.0,1095.5 925.8,1094.9 937.5,1095.0C949.2,1095.1 960.9,1095.8 972.7,1095.6C984.4,1095.4 996.1,1091.1 1007.8,1094.0C1019.6,1096.9 1043.0,1113.0 1043.0,1113.0" stroke="#9bbb4b"/>
</g>
<text x="674.6" y="1015.9" font-size="36.5" textLength="110.5" lengthAdjust="spacingAndGlyphs">β15del</text>
<text x="612.6" y="1350.7" font-size="33.0" textLength="18.1" lengthAdjust="spacingAndGlyphs">0</text>
<text x="683.0" y="1350.7" font-size="33.0" textLength="18.1" lengthAdjust="spacingAndGlyphs">4</text>
<text x="753.3" y="1350.7" font-size="33.0" textLength="18.1" lengthAdjust="spacingAndGlyphs">8</text>
<text x="814.6" y="1350.7" font-size="33.0" textLength="36.2" lengthAdjust="spacingAndGlyphs">12</text>
<text x="885.0" y="1350.7" font-size="33.0" textLength="36.2" lengthAdjust="spacingAndGlyphs">16</text>
<text x="955.3" y="1350.7" font-size="33.0" textLength="36.2" lengthAdjust="spacingAndGlyphs">20</text>
<text x="1025.7" y="1350.7" font-size="33.0" textLength="36.2" lengthAdjust="spacingAndGlyphs">24</text>
<text x="762.9" y="1402.5" font-size="36.5" textLength="136.1" lengthAdjust="spacingAndGlyphs">Time (h)</text>
</g>
<g id="p10">
<line x1="1098.2" y1="1198.6" x2="1537.9" y2="1198.6" stroke="#b9b9b9" stroke-width="2.4"/>
<line x1="1098.2" y1="1103.0" x2="1537.9" y2="1103.0" stroke="#b9b9b9" stroke-width="2.4"/>
<line x1="1098.2" y1="1007.4" x2="1537.9" y2="1007.4" stroke="#b9b9b9" stroke-width="2.4"/>
<rect x="1124.0" y="985.4" width="195.6" height="44" fill="#fff"/>
<path d="M1098.2,995.7V1305.7M1086.7,1294.2H1537.9" stroke="#878787" stroke-width="2.6" fill="none"/>
<path d="M1086.7,1198.6H1098.2M1086.7,1103.0H1098.2M1086.7,1007.4H1098.2M1168.5,1294.2V1305.7M1238.9,1294.2V1305.7M1309.2,1294.2V1305.7M1379.6,1294.2V1305.7M1450.0,1294.2V1305.7M1520.3,1294.2V1305.7" stroke="#878787" stroke-width="2.6" fill="none"/>
<path d="M1168.5,1286.2V1286.2M1158.8,1286.2h19.6M1203.7,1219.6V1263.0M1193.9,1219.6h19.6M1193.9,1263.0h19.6M1203.7,1282.0V1289.2M1193.9,1282.0h19.6M1193.9,1289.2h19.6M1238.9,1103.0V1175.0M1229.1,1103.0h19.6M1229.1,1175.0h19.6M1238.9,1278.0V1286.2M1229.1,1278.0h19.6M1229.1,1286.2h19.6M1274.1,1084.6V1124.0M1264.3,1084.6h19.6M1264.3,1124.0h19.6M1274.1,1276.0V1286.0M1264.3,1276.0h19.6M1264.3,1286.0h19.6M1344.4,1081.6V1088.2M1334.6,1081.6h19.6M1334.6,1088.2h19.6M1344.4,1241.6V1274.0M1334.6,1241.6h19.6M1334.6,1274.0h19.6M1379.6,1081.0V1091.2M1369.8,1081.0h19.6M1369.8,1091.2h19.6M1379.6,1188.6V1241.6M1369.8,1188.6h19.6M1369.8,1241.6h19.6M1379.6,1282.0V1292.2M1369.8,1282.0h19.6M1369.8,1292.2h19.6M1414.8,1084.2V1091.2M1405.0,1084.2h19.6M1405.0,1091.2h19.6M1414.8,1126.0V1168.4M1405.0,1126.0h19.6M1405.0,1168.4h19.6M1414.8,1264.6V1294.2M1405.0,1264.6h19.6M1450.0,1086.0V1096.2M1440.2,1086.0h19.6M1440.2,1096.2h19.6M1450.0,1111.6V1134.4M1440.2,1111.6h19.6M1440.2,1134.4h19.6M1450.0,1247.6V1294.2M1440.2,1247.6h19.6M1485.1,1091.0V1100.2M1475.3,1091.0h19.6M1475.3,1100.2h19.6M1485.1,1111.6V1139.6M1475.3,1111.6h19.6M1475.3,1139.6h19.6M1485.1,1231.6V1294.2M1475.3,1231.6h19.6M1520.3,1095.6V1139.6M1510.5,1095.6h19.6M1510.5,1108.0h19.6M1510.5,1110.0h19.6M1510.5,1139.6h19.6M1520.3,1265.0V1293.0M1510.5,1265.0h19.6M1510.5,1293.0h19.6" stroke="#000" stroke-width="2.9" fill="none"/>
<g clip-path="url(#c10)" fill="none" stroke-width="10.5" stroke-linecap="round" stroke-linejoin="round">
<path d="M1098.2,1293.9C1098.2,1293.9 1121.7,1293.0 1133.4,1292.7C1145.1,1292.4 1151.0,1292.5 1168.5,1292.2C1186.1,1292.0 1221.3,1291.4 1238.9,1291.2C1256.5,1291.0 1256.5,1291.3 1274.1,1291.2C1291.7,1291.1 1326.8,1290.9 1344.4,1290.4C1362.0,1289.9 1367.9,1289.6 1379.6,1288.0C1391.3,1286.4 1403.1,1283.4 1414.8,1281.0C1426.5,1278.6 1438.2,1275.9 1450.0,1273.6C1461.7,1271.3 1473.4,1265.9 1485.1,1267.0C1496.8,1268.1 1520.3,1280.0 1520.3,1280.0" stroke="#000000"/>
<path d="M1098.2,1293.9C1098.2,1293.9 1121.7,1293.3 1133.4,1292.7C1145.1,1292.1 1156.8,1298.8 1168.5,1290.2C1180.3,1281.6 1192.0,1266.2 1203.7,1241.2C1215.5,1216.2 1227.2,1162.9 1238.9,1140.3C1250.3,1118.3 1256.5,1114.6 1274.1,1105.5C1291.7,1096.4 1326.8,1088.9 1344.4,1085.9C1361.8,1082.9 1367.9,1086.8 1379.6,1087.3C1391.3,1087.8 1403.1,1088.1 1414.8,1088.9C1426.5,1089.7 1438.2,1091.0 1450.0,1092.3C1461.7,1093.6 1473.4,1095.2 1485.1,1096.9C1496.8,1098.6 1520.3,1102.7 1520.3,1102.7" stroke="#c94c40"/>
<path d="M1098.2,1293.9C1098.2,1293.9 1121.7,1293.3 1133.4,1292.7C1145.1,1292.1 1156.8,1291.3 1168.5,1290.2C1180.3,1289.1 1192.0,1287.3 1203.7,1286.0C1215.5,1284.7 1227.2,1283.3 1238.9,1282.6C1250.6,1281.9 1257.0,1286.0 1274.1,1282.0C1291.7,1277.9 1326.8,1269.0 1344.4,1257.8C1362.0,1246.6 1367.9,1233.4 1379.6,1215.0C1391.3,1196.6 1403.1,1162.5 1414.8,1147.2C1426.5,1131.9 1438.2,1126.6 1450.0,1123.0C1461.7,1119.4 1473.4,1125.3 1485.1,1125.6C1496.8,1125.9 1520.3,1124.8 1520.3,1124.8" stroke="#9bbb4b"/>
</g>
<text x="1158.6" y="1015.9" font-size="36.5" textLength="126.6" lengthAdjust="spacingAndGlyphs">β15mut</text>
<text x="1089.9" y="1350.7" font-size="33.0" textLength="18.1" lengthAdjust="spacingAndGlyphs">0</text>
<text x="1160.3" y="1350.7" font-size="33.0" textLength="18.1" lengthAdjust="spacingAndGlyphs">4</text>
<text x="1230.6" y="1350.7" font-size="33.0" textLength="18.1" lengthAdjust="spacingAndGlyphs">8</text>
<text x="1291.9" y="1350.7" font-size="33.0" textLength="36.2" lengthAdjust="spacingAndGlyphs">12</text>
<text x="1362.3" y="1350.7" font-size="33.0" textLength="36.2" lengthAdjust="spacingAndGlyphs">16</text>
<text x="1432.6" y="1350.7" font-size="33.0" textLength="36.2" lengthAdjust="spacingAndGlyphs">20</text>
<text x="1503.0" y="1350.7" font-size="33.0" textLength="36.2" lengthAdjust="spacingAndGlyphs">24</text>
<text x="1203.9" y="1402.5" font-size="36.5" textLength="136.1" lengthAdjust="spacingAndGlyphs">Time (h)</text>
</g>
<text x="1.4" y="35.6" font-size="48" textLength="33.0" lengthAdjust="spacingAndGlyphs" font-weight="bold">A</text>
<text x="398.6" y="1539.4" font-size="48" textLength="32.5" lengthAdjust="spacingAndGlyphs" font-weight="bold">B</text>
<line x1="1654" y1="1056.0" x2="1717.5" y2="1056.0" stroke="#000000" stroke-width="10.5"/>
<text x="1742.5" y="1068.8" font-size="36.5" textLength="59.7" lengthAdjust="spacingAndGlyphs">MH</text>
<line x1="1654" y1="1132.0" x2="1717.5" y2="1132.0" stroke="#c94c40" stroke-width="10.5"/>
<text x="1742.5" y="1144.8" font-size="36.5" textLength="148.4" lengthAdjust="spacingAndGlyphs">MH+ARA</text>
<line x1="1654" y1="1207.8" x2="1717.5" y2="1207.8" stroke="#9bbb4b" stroke-width="10.5"/>
<text x="1742.5" y="1220.6" font-size="36.5" textLength="154.6" lengthAdjust="spacingAndGlyphs">MH+IPTG</text>
<defs>
<filter id="b1" x="-20%" y="-100%" width="140%" height="300%"><feGaussianBlur stdDeviation="1.3"/></filter>
<filter id="b2" x="-20%" y="-100%" width="140%" height="300%"><feGaussianBlur stdDeviation="2.4"/></filter>
<filter id="b4" x="-30%" y="-150%" width="160%" height="400%"><feGaussianBlur stdDeviation="5"/></filter>
<filter id="b9" x="-30%" y="-60%" width="160%" height="220%"><feGaussianBlur stdDeviation="11"/></filter>
<filter id="nzH" x="0" y="0" width="100%" height="100%" color-interpolation-filters="sRGB"><feTurbulence type="fractalNoise" baseFrequency="0.028 0.034" numOctaves="3" seed="7"/><feColorMatrix type="matrix" values="0 0 0 0 0  0 0 0 0 0  0 0 0 0 0  2.2 0 0 0 -0.95"/><feComposite in2="SourceGraphic" operator="in"/></filter>
<filter id="nzL" x="0" y="0" width="100%" height="100%" color-interpolation-filters="sRGB"><feTurbulence type="fractalNoise" baseFrequency="0.028 0.034" numOctaves="3" seed="21"/><feColorMatrix type="matrix" values="0 0 0 0 1  0 0 0 0 1  0 0 0 0 1  2.2 0 0 0 -0.95"/><feComposite in2="SourceGraphic" operator="in"/></filter>
<filter id="nzS" x="0" y="0" width="100%" height="100%" color-interpolation-filters="sRGB"><feTurbulence type="fractalNoise" baseFrequency="0.2" numOctaves="1" seed="4"/><feColorMatrix type="matrix" values="0 0 0 0 0  0 0 0 0 0  0 0 0 0 0  9 0 0 0 -6.6"/><feGaussianBlur stdDeviation="0.8"/><feComposite in2="SourceGraphic" operator="in"/></filter>
<filter id="nzG" x="0" y="0" width="100%" height="100%" color-interpolation-filters="sRGB"><feTurbulence type="fractalNoise" baseFrequency="0.13 0.11" numOctaves="2" seed="11"/><feColorMatrix type="matrix" values="0 0 0 0 0  0 0 0 0 0  0 0 0 0 0  3.2 0 0 0 -1.55"/><feGaussianBlur stdDeviation="0.9"/><feComposite in2="SourceGraphic" operator="in"/></filter>
<linearGradient id="gH1" x1="0" y1="0" x2="0" y2="1"><stop offset="0" stop-color="#bebebe"/><stop offset="0.5" stop-color="#b7b7b7"/><stop offset="1" stop-color="#adadad"/></linearGradient>
<linearGradient id="gH2" x1="0" y1="0" x2="0" y2="1"><stop offset="0" stop-color="#c4c4c4"/><stop offset="0.55" stop-color="#bababa"/><stop offset="0.9" stop-color="#a8a8a8"/><stop offset="1" stop-color="#929292"/></linearGradient>
<linearGradient id="gC1" x1="0" y1="0" x2="0" y2="1"><stop offset="0" stop-color="#ebebeb"/><stop offset="0.45" stop-color="#f3f3f3"/><stop offset="1" stop-color="#eaeaea"/></linearGradient>
<clipPath id="bc0"><rect x="493" y="1624" width="587.3" height="100.4"/></clipPath>
<clipPath id="bc1"><rect x="493" y="1742" width="587.3" height="100.4"/></clipPath>
<clipPath id="bc2"><rect x="1108.6" y="1624" width="463" height="100.6"/></clipPath>
<clipPath id="bc3"><rect x="1108.6" y="1742" width="463" height="100.4"/></clipPath>
</defs>
<g clip-path="url(#bc0)">
<rect x="493" y="1624" width="587.3" height="100.4" fill="url(#gH1)"/>
<rect x="493" y="1624" width="587.3" height="100.4" fill="#000" filter="url(#nzH)" opacity="0.2"/>
<rect x="493" y="1624" width="587.3" height="100.4" fill="#fff" filter="url(#nzL)" opacity="0.1"/>
<rect x="493" y="1624" width="587.3" height="100.4" fill="#000" filter="url(#nzG)" opacity="0.13"/>
<rect x="493.0" y="1685.0" width="207.0" height="40.0" rx="20.0" fill="#000" opacity="0.1" filter="url(#b9)"/>
<rect x="700.0" y="1660.0" width="260.0" height="50.0" rx="25.0" fill="#000" opacity="0.08" filter="url(#b9)"/>
<rect x="820.0" y="1627.0" width="260.0" height="36.0" rx="18.0" fill="#fff" opacity="0.16" filter="url(#b9)"/>
<rect x="960.0" y="1680.0" width="120.0" height="40.0" rx="20.0" fill="#fff" opacity="0.1" filter="url(#b9)"/>
<rect x="500.0" y="1630.0" width="140.0" height="20.0" rx="10.0" fill="#fff" opacity="0.08" filter="url(#b9)"/>
<rect x="503.0" y="1667.5" width="73.0" height="7.0" rx="3.5" fill="#000" opacity="0.36" filter="url(#b2)"/>
<rect x="541.0" y="1665.2" width="32.0" height="8.5" rx="4.2" fill="#000" opacity="0.95" filter="url(#b2)"/>
<rect x="500.0" y="1692.0" width="80.0" height="16.0" rx="8.0" fill="#000" opacity="0.1" filter="url(#b4)"/>
<rect x="598.0" y="1672.0" width="72.0" height="7.0" rx="3.5" fill="#000" opacity="0.5" filter="url(#b2)"/>
<rect x="604.0" y="1671.8" width="30.0" height="6.5" rx="3.2" fill="#000" opacity="0.7" filter="url(#b2)"/>
<rect x="632.0" y="1672.8" width="35.0" height="7.5" rx="3.8" fill="#000" opacity="0.9" filter="url(#b2)"/>
<rect x="600.0" y="1684.0" width="70.0" height="16.0" rx="8.0" fill="#000" opacity="0.16" filter="url(#b4)"/>
<rect x="689.0" y="1672.0" width="81.0" height="10.0" rx="5.0" fill="#000" opacity="0.55" filter="url(#b2)"/>
<path d="M689.0,1677.0C693.2,1671.6 696.2,1669.8 701.0,1669.8L759.0,1669.8C763.8,1669.8 766.8,1671.6 771.0,1677.0C766.8,1682.4 763.8,1684.2 759.0,1684.2L701.0,1684.2C696.2,1684.2 693.2,1682.4 689.0,1677.0Z" fill="#000" opacity="1.0" filter="url(#b2)"/>
<rect x="690.0" y="1683.0" width="80.0" height="18.0" rx="9.0" fill="#000" opacity="0.25" filter="url(#b4)"/>
<rect x="790.0" y="1684.0" width="70.0" height="16.0" rx="8.0" fill="#000" opacity="0.1" filter="url(#b4)"/>
<rect x="874.0" y="1670.0" width="76.0" height="14.0" rx="7.0" fill="#000" opacity="0.42" filter="url(#b4)"/>
<rect x="890.0" y="1675.0" width="45.0" height="6.0" rx="3.0" fill="#000" opacity="0.16" filter="url(#b2)"/>
<rect x="964.0" y="1666.0" width="100.0" height="6.0" rx="3.0" fill="#000" opacity="0.3" filter="url(#b2)"/>
<rect x="972.0" y="1665.0" width="20.0" height="10.0" rx="5.0" fill="#000" opacity="0.75" filter="url(#b2)"/>
<rect x="985.0" y="1665.5" width="57.0" height="5.0" rx="2.5" fill="#000" opacity="0.25" filter="url(#b2)"/>
<rect x="493" y="1624" width="587.3" height="100.4" fill="#000" filter="url(#nzS)" opacity="0.4"/>
</g>
<g clip-path="url(#bc1)">
<rect x="493" y="1742" width="587.3" height="100.4" fill="url(#gC1)"/>
<rect x="493" y="1742" width="587.3" height="100.4" fill="#000" filter="url(#nzH)" opacity="0.08"/>
<rect x="493" y="1742" width="587.3" height="100.4" fill="#fff" filter="url(#nzL)" opacity="0.3"/>
<rect x="493" y="1742" width="587.3" height="100.4" fill="#000" filter="url(#nzG)" opacity="0.04"/>
<path d="M499.0,1794.0C507.4,1787.8 513.4,1785.8 523.0,1785.8L573.0,1785.8C582.6,1785.8 588.6,1787.8 597.0,1794.0C588.6,1800.2 582.6,1802.2 573.0,1802.2L523.0,1802.2C513.4,1802.2 507.4,1800.2 499.0,1794.0Z" fill="#000" opacity="0.5" filter="url(#b2)"/>
<path d="M500.0,1794.0C508.4,1788.8 514.4,1787.0 524.0,1787.0L572.0,1787.0C581.6,1787.0 587.6,1788.8 596.0,1794.0C587.6,1799.2 581.6,1801.0 572.0,1801.0L524.0,1801.0C514.4,1801.0 508.4,1799.2 500.0,1794.0Z" fill="#000" opacity="1.0" filter="url(#b1)"/>
<path d="M600.0,1793.5C608.4,1786.8 614.4,1784.5 624.0,1784.5L663.0,1784.5C672.6,1784.5 678.6,1786.8 687.0,1793.5C678.6,1800.2 672.6,1802.5 663.0,1802.5L624.0,1802.5C614.4,1802.5 608.4,1800.2 600.0,1793.5Z" fill="#000" opacity="0.5" filter="url(#b2)"/>
<path d="M601.0,1793.5C609.4,1787.7 615.4,1785.8 625.0,1785.8L662.0,1785.8C671.6,1785.8 677.6,1787.7 686.0,1793.5C677.6,1799.3 671.6,1801.2 662.0,1801.2L625.0,1801.2C615.4,1801.2 609.4,1799.3 601.0,1793.5Z" fill="#000" opacity="1.0" filter="url(#b1)"/>
<path d="M691.0,1794.0C699.4,1787.8 705.4,1785.8 715.0,1785.8L754.0,1785.8C763.6,1785.8 769.6,1787.8 778.0,1794.0C769.6,1800.2 763.6,1802.2 754.0,1802.2L715.0,1802.2C705.4,1802.2 699.4,1800.2 691.0,1794.0Z" fill="#000" opacity="0.5" filter="url(#b2)"/>
<path d="M692.0,1794.0C700.4,1788.8 706.4,1787.0 716.0,1787.0L753.0,1787.0C762.6,1787.0 768.6,1788.8 777.0,1794.0C768.6,1799.2 762.6,1801.0 753.0,1801.0L716.0,1801.0C706.4,1801.0 700.4,1799.2 692.0,1794.0Z" fill="#000" opacity="1.0" filter="url(#b1)"/>
<path d="M782.0,1794.0C790.4,1787.6 796.4,1785.5 806.0,1785.5L844.0,1785.5C853.6,1785.5 859.6,1787.6 868.0,1794.0C859.6,1800.4 853.6,1802.5 844.0,1802.5L806.0,1802.5C796.4,1802.5 790.4,1800.4 782.0,1794.0Z" fill="#000" opacity="0.5" filter="url(#b2)"/>
<path d="M783.0,1794.0C791.4,1788.6 797.4,1786.8 807.0,1786.8L843.0,1786.8C852.6,1786.8 858.6,1788.6 867.0,1794.0C858.6,1799.4 852.6,1801.2 843.0,1801.2L807.0,1801.2C797.4,1801.2 791.4,1799.4 783.0,1794.0Z" fill="#000" opacity="1.0" filter="url(#b1)"/>
<path d="M873.0,1794.0C881.4,1787.8 887.4,1785.8 897.0,1785.8L936.0,1785.8C945.6,1785.8 951.6,1787.8 960.0,1794.0C951.6,1800.2 945.6,1802.2 936.0,1802.2L897.0,1802.2C887.4,1802.2 881.4,1800.2 873.0,1794.0Z" fill="#000" opacity="0.5" filter="url(#b2)"/>
<path d="M874.0,1794.0C882.4,1788.8 888.4,1787.0 898.0,1787.0L935.0,1787.0C944.6,1787.0 950.6,1788.8 959.0,1794.0C950.6,1799.2 944.6,1801.0 935.0,1801.0L898.0,1801.0C888.4,1801.0 882.4,1799.2 874.0,1794.0Z" fill="#000" opacity="1.0" filter="url(#b1)"/>
<path d="M964.0,1794.5C972.4,1788.5 978.4,1786.5 988.0,1786.5L1043.0,1786.5C1052.6,1786.5 1058.6,1788.5 1067.0,1794.5C1058.6,1800.5 1052.6,1802.5 1043.0,1802.5L988.0,1802.5C978.4,1802.5 972.4,1800.5 964.0,1794.5Z" fill="#000" opacity="0.5" filter="url(#b2)"/>
<path d="M965.0,1794.5C973.4,1789.4 979.4,1787.8 989.0,1787.8L1042.0,1787.8C1051.6,1787.8 1057.6,1789.4 1066.0,1794.5C1057.6,1799.6 1051.6,1801.2 1042.0,1801.2L989.0,1801.2C979.4,1801.2 973.4,1799.6 965.0,1794.5Z" fill="#000" opacity="1.0" filter="url(#b1)"/>
<line x1="1079" y1="1746" x2="1079" y2="1843" stroke="#222" stroke-width="2.6" stroke-dasharray="9 2 14 3 6 2" opacity="0.8"/>
<rect x="493" y="1742" width="587.3" height="100.4" fill="#000" filter="url(#nzS)" opacity="0.55"/>
</g>
<g clip-path="url(#bc2)">
<rect x="1108.6" y="1624" width="463" height="100.6" fill="url(#gH2)"/>
<rect x="1108.6" y="1624" width="463" height="100.6" fill="#000" filter="url(#nzH)" opacity="0.22"/>
<rect x="1108.6" y="1624" width="463" height="100.6" fill="#fff" filter="url(#nzL)" opacity="0.12"/>
<rect x="1108.6" y="1624" width="463" height="100.6" fill="#000" filter="url(#nzG)" opacity="0.11"/>
<rect x="1260.0" y="1655.0" width="80.0" height="80.0" rx="40.0" fill="#000" opacity="0.16" filter="url(#b9)"/>
<rect x="1108.0" y="1716.0" width="152.0" height="12.0" rx="6.0" fill="#000" opacity="0.3" filter="url(#b4)"/>
<rect x="1490.0" y="1670.0" width="82.0" height="60.0" rx="30.0" fill="#000" opacity="0.1" filter="url(#b9)"/>
<rect x="1385.0" y="1623.0" width="110.0" height="90.0" rx="45.0" fill="#fff" opacity="0.22" filter="url(#b9)"/>
<rect x="1112.0" y="1625.0" width="103.0" height="40.0" rx="20.0" fill="#fff" opacity="0.16" filter="url(#b9)"/>
<rect x="1123.0" y="1671.0" width="67.0" height="7.0" rx="3.5" fill="#000" opacity="0.25" filter="url(#b2)"/>
<rect x="1162.0" y="1670.5" width="11.0" height="8.0" rx="4.0" fill="#000" opacity="0.7" filter="url(#b2)"/>
<rect x="1220.0" y="1663.5" width="72.0" height="10.0" rx="5.0" fill="#000" opacity="0.75" filter="url(#b2)"/>
<rect x="1232.0" y="1663.5" width="58.0" height="9.0" rx="4.5" fill="#000" opacity="1.0" filter="url(#b2)"/>
<rect x="1262.0" y="1660.0" width="29.0" height="13.0" rx="6.5" fill="#000" opacity="1.0" filter="url(#b2)"/>
<rect x="1312.0" y="1665.5" width="62.0" height="8.0" rx="4.0" fill="#000" opacity="0.7" filter="url(#b2)"/>
<rect x="1320.0" y="1665.2" width="50.0" height="8.5" rx="4.2" fill="#000" opacity="1.0" filter="url(#b2)"/>
<rect x="1498.0" y="1670.5" width="62.0" height="7.0" rx="3.5" fill="#000" opacity="0.5" filter="url(#b2)"/>
<rect x="1504.0" y="1671.0" width="26.0" height="6.0" rx="3.0" fill="#000" opacity="0.45" filter="url(#b2)"/>
<rect x="1546" y="1624" width="14" height="101" fill="#000" opacity="0.16" filter="url(#b4)"/>
<rect x="1108.6" y="1624" width="463" height="100.6" fill="#000" filter="url(#nzS)" opacity="0.35"/>
</g>
<g clip-path="url(#bc3)">
<rect x="1108.6" y="1742" width="463" height="100.4" fill="url(#gC1)"/>
<rect x="1108.6" y="1742" width="463" height="100.4" fill="#000" filter="url(#nzH)" opacity="0.06"/>
<rect x="1108.6" y="1742" width="463" height="100.4" fill="#fff" filter="url(#nzL)" opacity="0.3"/>
<rect x="1108.6" y="1742" width="463" height="100.4" fill="#000" filter="url(#nzG)" opacity="0.03"/>
<path d="M1120.0,1795.5C1128.4,1789.1 1134.4,1787.0 1144.0,1787.0L1180.0,1787.0C1189.6,1787.0 1195.6,1789.1 1204.0,1795.5C1195.6,1801.9 1189.6,1804.0 1180.0,1804.0L1144.0,1804.0C1134.4,1804.0 1128.4,1801.9 1120.0,1795.5Z" fill="#000" opacity="0.5" filter="url(#b2)" transform="rotate(-2 1162.0 1795.5)"/>
<path d="M1121.0,1795.5C1129.4,1790.1 1135.4,1788.2 1145.0,1788.2L1179.0,1788.2C1188.6,1788.2 1194.6,1790.1 1203.0,1795.5C1194.6,1800.9 1188.6,1802.8 1179.0,1802.8L1145.0,1802.8C1135.4,1802.8 1129.4,1800.9 1121.0,1795.5Z" fill="#000" opacity="1.0" filter="url(#b1)" transform="rotate(-2 1162.0 1795.5)"/>
<path d="M1209.0,1793.5C1217.4,1787.1 1223.4,1785.0 1233.0,1785.0L1273.0,1785.0C1282.6,1785.0 1288.6,1787.1 1297.0,1793.5C1288.6,1799.9 1282.6,1802.0 1273.0,1802.0L1233.0,1802.0C1223.4,1802.0 1217.4,1799.9 1209.0,1793.5Z" fill="#000" opacity="0.5" filter="url(#b2)"/>
<path d="M1210.0,1793.5C1218.4,1788.1 1224.4,1786.2 1234.0,1786.2L1272.0,1786.2C1281.6,1786.2 1287.6,1788.1 1296.0,1793.5C1287.6,1798.9 1281.6,1800.8 1272.0,1800.8L1234.0,1800.8C1224.4,1800.8 1218.4,1798.9 1210.0,1793.5Z" fill="#000" opacity="1.0" filter="url(#b1)"/>
<path d="M1302.0,1789.5C1310.4,1783.7 1316.4,1781.8 1326.0,1781.8L1356.0,1781.8C1365.6,1781.8 1371.6,1783.7 1380.0,1789.5C1371.6,1795.3 1365.6,1797.2 1356.0,1797.2L1326.0,1797.2C1316.4,1797.2 1310.4,1795.3 1302.0,1789.5Z" fill="#000" opacity="0.5" filter="url(#b2)" transform="rotate(-3 1341.0 1789.5)"/>
<path d="M1303.0,1789.5C1311.4,1784.6 1317.4,1783.0 1327.0,1783.0L1355.0,1783.0C1364.6,1783.0 1370.6,1784.6 1379.0,1789.5C1370.6,1794.4 1364.6,1796.0 1355.0,1796.0L1327.0,1796.0C1317.4,1796.0 1311.4,1794.4 1303.0,1789.5Z" fill="#000" opacity="1.0" filter="url(#b1)" transform="rotate(-3 1341.0 1789.5)"/>
<path d="M1385.0,1788.5C1393.4,1783.6 1399.4,1782.0 1409.0,1782.0L1438.0,1782.0C1447.6,1782.0 1453.6,1783.6 1462.0,1788.5C1453.6,1793.4 1447.6,1795.0 1438.0,1795.0L1409.0,1795.0C1399.4,1795.0 1393.4,1793.4 1385.0,1788.5Z" fill="#000" opacity="0.5" filter="url(#b2)"/>
<path d="M1386.0,1788.5C1394.4,1784.6 1400.4,1783.2 1410.0,1783.2L1437.0,1783.2C1446.6,1783.2 1452.6,1784.6 1461.0,1788.5C1452.6,1792.4 1446.6,1793.8 1437.0,1793.8L1410.0,1793.8C1400.4,1793.8 1394.4,1792.4 1386.0,1788.5Z" fill="#000" opacity="1.0" filter="url(#b1)"/>
<path d="M1464.0,1787.5C1472.4,1782.2 1478.4,1780.5 1488.0,1780.5L1541.0,1780.5C1550.6,1780.5 1556.6,1782.2 1565.0,1787.5C1556.6,1792.8 1550.6,1794.5 1541.0,1794.5L1488.0,1794.5C1478.4,1794.5 1472.4,1792.8 1464.0,1787.5Z" fill="#000" opacity="0.5" filter="url(#b2)" transform="rotate(4 1514.5 1787.5)"/>
<path d="M1465.0,1787.5C1473.4,1783.2 1479.4,1781.8 1489.0,1781.8L1540.0,1781.8C1549.6,1781.8 1555.6,1783.2 1564.0,1787.5C1555.6,1791.8 1549.6,1793.2 1540.0,1793.2L1489.0,1793.2C1479.4,1793.2 1473.4,1791.8 1465.0,1787.5Z" fill="#000" opacity="1.0" filter="url(#b1)" transform="rotate(4 1514.5 1787.5)"/>
<rect x="1108.6" y="1742" width="463" height="100.4" fill="#000" filter="url(#nzS)" opacity="0.4"/>
</g>
<g transform="translate(545.6,1607.8) rotate(-45)">
<text x="0.0" y="0.0" font-size="36.5" textLength="126.3" lengthAdjust="spacingAndGlyphs">LptH wt</text>
</g>
<g transform="translate(644.6,1607.9) rotate(-45)">
<text x="0.0" y="0.0" font-size="36.5" textLength="111.2" lengthAdjust="spacingAndGlyphs">β16del</text>
</g>
<g transform="translate(734.2,1607.9) rotate(-45)">
<text x="0.0" y="0.0" font-size="36.5" textLength="111.2" lengthAdjust="spacingAndGlyphs">β13del</text>
</g>
<g transform="translate(825.2,1607.9) rotate(-45)">
<text x="0.0" y="0.0" font-size="36.5" textLength="91.0" lengthAdjust="spacingAndGlyphs">β1del</text>
</g>
<g transform="translate(916.3,1607.9) rotate(-45)">
<text x="0.0" y="0.0" font-size="36.5" textLength="91.0" lengthAdjust="spacingAndGlyphs">β2del</text>
</g>
<g transform="translate(1020.8,1607.9) rotate(-45)">
<text x="0.0" y="0.0" font-size="36.5" textLength="111.2" lengthAdjust="spacingAndGlyphs">β15del</text>
</g>
<g transform="translate(1160.5,1607.8) rotate(-45)">
<text x="0.0" y="0.0" font-size="36.5" textLength="126.3" lengthAdjust="spacingAndGlyphs">LptH wt</text>
</g>
<g transform="translate(1259.6,1607.9) rotate(-45)">
<text x="0.0" y="0.0" font-size="36.5" textLength="127.4" lengthAdjust="spacingAndGlyphs">β16mut</text>
</g>
<g transform="translate(1341.7,1607.9) rotate(-45)">
<text x="0.0" y="0.0" font-size="36.5" textLength="127.4" lengthAdjust="spacingAndGlyphs">β13mut</text>
</g>
<g transform="translate(1434.2,1607.9) rotate(-45)">
<text x="0.0" y="0.0" font-size="36.5" textLength="107.2" lengthAdjust="spacingAndGlyphs">β1mut</text>
</g>
<g transform="translate(1528.2,1607.9) rotate(-45)">
<text x="0.0" y="0.0" font-size="36.5" textLength="127.4" lengthAdjust="spacingAndGlyphs">β15mut</text>
</g>
<text x="1591.5" y="1687.2" font-size="36.5" textLength="76.7" lengthAdjust="spacingAndGlyphs">LptH</text>
<text x="1591.5" y="1806.8" font-size="36.5" textLength="73.1" lengthAdjust="spacingAndGlyphs">LptC</text>
</svg></body></html>
